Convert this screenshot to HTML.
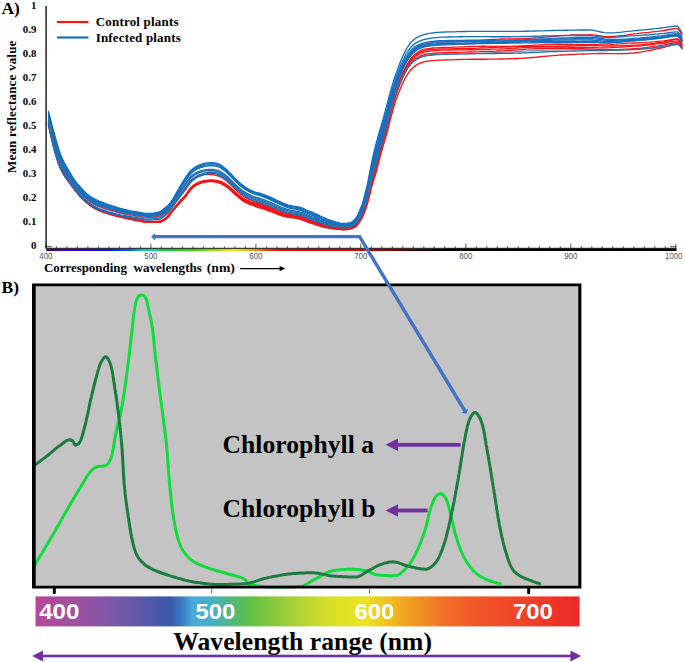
<!DOCTYPE html>
<html><head><meta charset="utf-8"><title>Figure</title>
<style>
html,body{margin:0;padding:0;background:#fff;}
body{width:685px;height:662px;overflow:hidden;font-family:"Liberation Serif",serif;}
svg{display:block;}
.serif{font-family:"Liberation Serif",serif;font-weight:bold;fill:#000;}
.sans{font-family:"Liberation Sans",sans-serif;}
</style></head><body>
<svg width="685" height="662" viewBox="0 0 685 662">
<defs>
<linearGradient id="specA" x1="0" y1="0" x2="1" y2="0">
<stop offset="0.000" stop-color="#3a0070"/>
<stop offset="0.039" stop-color="#5000a8"/>
<stop offset="0.092" stop-color="#2a00cc"/>
<stop offset="0.158" stop-color="#0018e0"/>
<stop offset="0.211" stop-color="#0068e0"/>
<stop offset="0.242" stop-color="#00c0e0"/>
<stop offset="0.266" stop-color="#00dca0"/>
<stop offset="0.295" stop-color="#00d028"/>
<stop offset="0.382" stop-color="#40d400"/>
<stop offset="0.437" stop-color="#a8e000"/>
<stop offset="0.474" stop-color="#f0ee00"/>
<stop offset="0.521" stop-color="#f09800"/>
<stop offset="0.555" stop-color="#f04000"/>
<stop offset="0.595" stop-color="#e80000"/>
<stop offset="0.789" stop-color="#e00000"/>
<stop offset="0.895" stop-color="#700000"/>
<stop offset="1.000" stop-color="#000000"/>
</linearGradient>
<linearGradient id="specB" x1="0" y1="0" x2="1" y2="0">
<stop offset="0" stop-color="#b8479a"/>
<stop offset="0.117" stop-color="#a050a0"/>
<stop offset="0.249" stop-color="#7858a8"/>
<stop offset="0.355" stop-color="#5058a8"/>
<stop offset="0.408" stop-color="#3858a8"/>
<stop offset="0.4415" stop-color="#3a78c0"/>
<stop offset="0.475" stop-color="#48a8d8"/>
<stop offset="0.5415" stop-color="#48b0c0"/>
<stop offset="0.5945" stop-color="#50b878"/>
<stop offset="0.6476" stop-color="#60c048"/>
<stop offset="0.754" stop-color="#98cc38"/>
<stop offset="0.8324" stop-color="#c0d830"/>
<stop offset="0.893" stop-color="#d8e028"/>
<stop offset="1" stop-color="#ece420"/>
</linearGradient>
<linearGradient id="specB2" x1="0" y1="0" x2="1" y2="0">
<stop offset="0" stop-color="#ece420"/>
<stop offset="0.105" stop-color="#f0c020"/>
<stop offset="0.228" stop-color="#f09820"/>
<stop offset="0.37" stop-color="#f07028"/>
<stop offset="0.513" stop-color="#f05828"/>
<stop offset="0.718" stop-color="#f04428"/>
<stop offset="0.923" stop-color="#ee3028"/>
<stop offset="1" stop-color="#e82828"/>
</linearGradient>
</defs>
<rect width="685" height="662" fill="#fff"/>

<!-- ===== Panel A ===== -->
<text class="serif" x="1.4" y="13.7" font-size="17.5">A)</text>
<g class="serif" font-size="10.8"><text x="36.3" y="248.7" text-anchor="end">0</text><text x="36.3" y="224.8" text-anchor="end">0.1</text><text x="36.3" y="200.8" text-anchor="end">0.2</text><text x="36.3" y="176.8" text-anchor="end">0.3</text><text x="36.3" y="152.9" text-anchor="end">0.4</text><text x="36.3" y="128.9" text-anchor="end">0.5</text><text x="36.3" y="105.0" text-anchor="end">0.6</text><text x="36.3" y="81.0" text-anchor="end">0.7</text><text x="36.3" y="57.1" text-anchor="end">0.8</text><text x="36.3" y="33.2" text-anchor="end">0.9</text><text x="36.3" y="9.2" text-anchor="end">1</text></g>
<text class="serif" font-size="13" transform="translate(15.5,173) rotate(-90)" textLength="132.4" lengthAdjust="spacing">Mean reflectance value</text>
<line x1="46.1" y1="6" x2="46.1" y2="248.6" stroke="#111" stroke-width="1.4"/>
<line x1="46" y1="246.6" x2="51.8" y2="246.6" stroke="#111" stroke-width="0.8"/>
<!-- legend -->
<line x1="57" y1="22" x2="88.5" y2="22" stroke="#fb1216" stroke-width="2.2"/>
<line x1="57" y1="37.5" x2="88.5" y2="37.5" stroke="#1470c0" stroke-width="2.2"/>
<text class="serif" font-size="13" x="95.7" y="26.3" textLength="82.8" lengthAdjust="spacing">Control plants</text>
<text class="serif" font-size="13" x="95.7" y="41.7" textLength="85" lengthAdjust="spacing">Infected plants</text>
<!-- curves -->
<g fill="none" stroke-width="1.35" stroke-linejoin="round" stroke-linecap="round">
<polyline points="48.5,120.4 50.5,129.3 52.5,137.6 54.5,145.3 56.5,152.1 58.5,158.4 60.5,163.7 62.5,167.8 64.5,171.3 66.5,174.4 68.5,177.3 70.5,180.2 72.5,183.0 74.5,185.8 76.5,188.4 78.5,190.7 80.5,192.9 82.5,195.0 84.5,196.9 86.5,198.7 88.5,200.3 90.5,201.7 92.5,203.0 94.5,204.1 96.5,205.1 98.5,206.0 100.5,206.7 102.5,207.5 104.5,208.1 106.5,208.8 108.5,209.4 110.5,210.0 112.5,210.5 114.5,211.1 116.5,211.6 118.5,212.2 120.5,212.7 122.5,213.2 124.5,213.6 126.5,214.0 128.5,214.4 130.5,214.8 132.5,215.1 134.5,215.5 136.5,215.8 138.5,216.1 140.5,216.4 142.5,216.8 144.5,217.1 146.5,217.3 148.5,217.4 150.5,217.3 152.5,217.1 154.5,216.9 156.5,216.7 158.5,216.4 160.5,215.7 162.5,214.7 164.5,213.4 166.5,212.0 168.5,210.1 170.5,207.7 172.5,204.9 174.5,202.1 176.5,199.3 178.5,196.5 180.5,193.7 182.5,191.2 184.5,188.8 186.5,186.2 188.5,183.5 190.5,181.0 192.5,179.3 194.5,178.0 196.5,177.0 198.5,176.1 200.5,175.5 202.5,175.1 204.5,174.7 206.5,174.5 208.5,174.5 210.5,174.5 212.5,174.7 214.5,175.0 216.5,175.4 218.5,176.0 220.5,176.9 222.5,178.0 224.5,179.4 226.5,181.0 228.5,182.6 230.5,184.5 232.5,186.5 234.5,188.5 236.5,190.4 238.5,192.2 240.5,194.0 242.5,195.5 244.5,196.8 246.5,198.0 248.5,199.1 250.5,200.0 252.5,200.9 254.5,201.7 256.5,202.4 258.5,203.0 260.5,203.7 262.5,204.4 264.5,205.1 266.5,205.8 268.5,206.6 270.5,207.4 272.5,208.2 274.5,209.1 276.5,209.9 278.5,210.8 280.5,211.6 282.5,212.4 284.5,213.1 286.5,213.7 288.5,214.2 290.5,214.5 292.5,214.8 294.5,215.1 296.5,215.4 298.5,215.8 300.5,216.4 302.5,217.1 304.5,217.9 306.5,218.8 308.5,219.6 310.5,220.3 312.5,221.1 314.5,221.8 316.5,222.5 318.5,223.3 320.5,224.0 322.5,224.7 324.5,225.3 326.5,225.8 328.5,226.3 330.5,226.7 332.5,227.1 334.5,227.4 336.5,227.7 338.5,228.0 340.5,228.3 342.5,228.4 344.5,228.5 346.5,228.3 348.5,228.0 350.0,227.7 351.0,227.4 352.0,227.1 353.0,226.6 354.0,226.0 355.0,225.3 356.0,224.4 357.0,223.3 358.0,221.8 359.0,220.2 360.0,218.4 361.0,216.5 362.0,214.4 363.0,212.0 364.0,209.2 365.0,206.2 366.0,202.9 367.0,199.5 368.0,195.4 369.0,190.9 370.0,186.5 371.0,182.0 372.0,177.4 373.0,173.4 374.0,169.7 375.0,166.2 376.0,162.4 377.0,158.5 378.0,154.5 379.0,150.4 380.0,146.4 381.0,142.6 382.0,138.8 383.0,135.2 384.0,131.6 385.0,128.0 386.0,124.3 387.0,120.5 388.0,116.5 389.0,112.4 390.0,108.3 391.0,104.4 392.0,100.7 393.0,97.1 394.0,93.6 395.0,90.3 396.0,87.0 397.0,84.0 398.0,81.1 399.0,78.3 400.0,75.6 401.0,73.0 402.0,70.5 403.0,68.1 404.0,65.9 405.0,63.7 406.0,61.7 407.0,59.8 408.0,58.1 409.0,56.5 410.0,55.0 411.0,53.7 412.0,52.4 413.0,51.3 414.0,50.2 415.0,49.3 416.0,48.4 417.0,47.7 418.0,46.9 419.0,46.3 420.0,45.7 421.0,45.2 422.0,44.8 423.0,44.5 424.0,44.2 425.0,43.9 426.0,43.7 427.0,43.4 428.0,43.3 429.0,43.1 430.0,42.9 433.0,42.5 436.0,42.2 439.0,41.9 442.0,41.8 445.0,41.7 448.0,41.7 451.0,41.6 454.0,41.6 457.0,41.5 460.0,41.5 463.0,41.4 466.0,41.3 469.0,41.2 472.0,41.1 475.0,40.9 478.0,40.6 481.0,40.4 484.0,40.1 487.0,39.9 490.0,39.7 493.0,39.5 496.0,39.3 499.0,39.2 502.0,39.0 505.0,38.9 508.0,38.9 511.0,38.8 514.0,38.8 517.0,38.7 520.0,38.7 523.0,38.6 526.0,38.5 529.0,38.4 532.0,38.2 535.0,38.0 538.0,37.8 541.0,37.5 544.0,37.2 547.0,36.9 550.0,36.6 553.0,36.3 556.0,36.1 559.0,35.8 562.0,35.6 565.0,35.4 568.0,35.3 571.0,35.1 574.0,35.0 577.0,34.9 580.0,34.9 583.0,34.8 586.0,34.8 589.0,34.7 592.0,34.8 595.0,35.1 598.0,35.5 601.0,36.0 604.0,36.4 607.0,36.7 610.0,36.6 613.0,36.5 616.0,36.2 619.0,35.9 622.0,35.6 625.0,35.3 628.0,34.8 631.0,34.3 634.0,33.9 637.0,33.6 640.0,33.2 643.0,32.9 646.0,32.6 649.0,32.3 652.0,31.9 655.0,31.6 658.0,31.3 661.0,30.9 664.0,30.5 667.0,30.0 670.0,29.5 673.0,29.0 676.0,28.7 677.0,28.6 678.0,29.0 680.0,31.5 682.0,35.1" stroke="#fb1216"/>
<polyline points="48.5,122.1 50.5,131.4 52.5,140.0 54.5,147.9 56.5,154.9 58.5,161.2 60.5,166.4 62.5,170.6 64.5,174.0 66.5,177.2 68.5,180.1 70.5,182.9 72.5,185.7 74.5,188.4 76.5,191.0 78.5,193.4 80.5,195.7 82.5,197.8 84.5,199.7 86.5,201.5 88.5,203.2 90.5,204.7 92.5,206.2 94.5,207.4 96.5,208.4 98.5,209.4 100.5,210.2 102.5,211.0 104.5,211.7 106.5,212.4 108.5,213.1 110.5,213.7 112.5,214.2 114.5,214.8 116.5,215.3 118.5,215.8 120.5,216.3 122.5,216.8 124.5,217.2 126.5,217.7 128.5,218.1 130.5,218.5 132.5,218.9 134.5,219.3 136.5,219.7 138.5,220.0 140.5,220.4 142.5,220.8 144.5,221.2 146.5,221.4 148.5,221.5 150.5,221.5 152.5,221.5 154.5,221.5 156.5,221.4 158.5,221.4 160.5,221.0 162.5,220.0 164.5,218.8 166.5,217.5 168.5,215.4 170.5,212.8 172.5,210.1 174.5,207.7 176.5,205.2 178.5,202.7 180.5,200.4 182.5,198.4 184.5,196.3 186.5,193.6 188.5,190.7 190.5,188.0 192.5,186.1 194.5,184.6 196.5,183.4 198.5,182.5 200.5,181.7 202.5,181.1 204.5,180.6 206.5,180.3 208.5,180.1 210.5,180.0 212.5,180.0 214.5,180.1 216.5,180.4 218.5,180.8 220.5,181.4 222.5,182.2 224.5,183.4 226.5,184.7 228.5,186.1 230.5,187.7 232.5,189.5 234.5,191.3 236.5,193.0 238.5,194.7 240.5,196.3 242.5,197.7 244.5,198.8 246.5,199.8 248.5,200.7 250.5,201.6 252.5,202.3 254.5,202.9 256.5,203.5 258.5,204.0 260.5,204.6 262.5,205.3 264.5,206.0 266.5,206.7 268.5,207.5 270.5,208.3 272.5,209.1 274.5,210.0 276.5,210.8 278.5,211.7 280.5,212.6 282.5,213.3 284.5,214.0 286.5,214.5 288.5,215.0 290.5,215.4 292.5,215.7 294.5,216.0 296.5,216.3 298.5,216.7 300.5,217.3 302.5,218.0 304.5,218.8 306.5,219.6 308.5,220.4 310.5,221.2 312.5,221.9 314.5,222.7 316.5,223.4 318.5,224.1 320.5,224.8 322.5,225.5 324.5,226.1 326.5,226.6 328.5,227.0 330.5,227.4 332.5,227.7 334.5,228.0 336.5,228.3 338.5,228.6 340.5,228.8 342.5,229.0 344.5,229.0 346.5,228.8 348.5,228.5 350.0,228.2 351.0,228.0 352.0,227.6 353.0,227.2 354.0,226.6 355.0,226.0 356.0,225.1 357.0,224.1 358.0,222.7 359.0,221.2 360.0,219.5 361.0,217.7 362.0,215.7 363.0,213.4 364.0,210.8 365.0,208.0 366.0,204.9 367.0,201.5 368.0,197.6 369.0,193.3 370.0,189.1 371.0,184.7 372.0,180.2 373.0,176.4 374.0,173.0 375.0,169.6 376.0,165.9 377.0,162.0 378.0,158.0 379.0,154.0 380.0,150.0 381.0,146.1 382.0,142.4 383.0,138.9 384.0,135.3 385.0,131.8 386.0,128.2 387.0,124.4 388.0,120.5 389.0,116.4 390.0,112.3 391.0,108.4 392.0,104.7 393.0,101.1 394.0,97.6 395.0,94.3 396.0,91.1 397.0,88.1 398.0,85.2 399.0,82.5 400.0,79.8 401.0,77.3 402.0,74.9 403.0,72.6 404.0,70.3 405.0,68.2 406.0,66.3 407.0,64.5 408.0,62.8 409.0,61.3 410.0,59.8 411.0,58.5 412.0,57.3 413.0,56.2 414.0,55.2 415.0,54.3 416.0,53.5 417.0,52.8 418.0,52.1 419.0,51.5 420.0,50.9 421.0,50.5 422.0,50.1 423.0,49.7 424.0,49.4 425.0,49.2 426.0,49.0 427.0,48.8 428.0,48.6 429.0,48.5 430.0,48.3 433.0,48.0 436.0,47.8 439.0,47.6 442.0,47.5 445.0,47.5 448.0,47.4 451.0,47.3 454.0,47.2 457.0,47.1 460.0,46.9 463.0,46.8 466.0,46.6 469.0,46.5 472.0,46.4 475.0,46.3 478.0,46.3 481.0,46.2 484.0,46.2 487.0,46.3 490.0,46.3 493.0,46.3 496.0,46.3 499.0,46.3 502.0,46.4 505.0,46.4 508.0,46.3 511.0,46.3 514.0,46.2 517.0,46.1 520.0,46.0 523.0,45.9 526.0,45.7 529.0,45.5 532.0,45.3 535.0,45.1 538.0,45.0 541.0,44.8 544.0,44.6 547.0,44.5 550.0,44.4 553.0,44.3 556.0,44.2 559.0,44.2 562.0,44.2 565.0,44.2 568.0,44.2 571.0,44.2 574.0,44.3 577.0,44.3 580.0,44.3 583.0,44.3 586.0,44.3 589.0,44.3 592.0,44.3 595.0,44.5 598.0,44.6 601.0,44.8 604.0,44.9 607.0,44.8 610.0,44.7 613.0,44.4 616.0,44.2 619.0,43.9 622.0,43.6 625.0,43.4 628.0,43.2 631.0,43.1 634.0,43.0 637.0,42.9 640.0,42.7 643.0,42.6 646.0,42.4 649.0,42.2 652.0,41.9 655.0,41.7 658.0,41.4 661.0,41.1 664.0,40.8 667.0,40.3 670.0,39.8 673.0,39.3 676.0,39.0 677.0,38.9 678.0,39.0 680.0,40.8 682.0,44.0" stroke="#fb1216"/>
<polyline points="48.5,122.9 50.5,132.2 52.5,140.8 54.5,148.8 56.5,155.7 58.5,161.9 60.5,167.1 62.5,171.1 64.5,174.6 66.5,177.7 68.5,180.5 70.5,183.3 72.5,186.0 74.5,188.8 76.5,191.3 78.5,193.7 80.5,196.0 82.5,198.1 84.5,200.0 86.5,201.8 88.5,203.4 90.5,204.9 92.5,206.4 94.5,207.6 96.5,208.6 98.5,209.5 100.5,210.4 102.5,211.2 104.5,211.9 106.5,212.5 108.5,213.2 110.5,213.8 112.5,214.3 114.5,214.9 116.5,215.4 118.5,215.9 120.5,216.4 122.5,216.9 124.5,217.3 126.5,217.8 128.5,218.2 130.5,218.6 132.5,219.0 134.5,219.4 136.5,219.7 138.5,220.1 140.5,220.5 142.5,220.9 144.5,221.3 146.5,221.5 148.5,221.6 150.5,221.6 152.5,221.6 154.5,221.6 156.5,221.5 158.5,221.5 160.5,221.1 162.5,220.2 164.5,219.0 166.5,217.6 168.5,215.5 170.5,213.0 172.5,210.3 174.5,207.8 176.5,205.4 178.5,203.0 180.5,200.7 182.5,198.6 184.5,196.5 186.5,194.0 188.5,191.0 190.5,188.3 192.5,186.4 194.5,185.0 196.5,183.7 198.5,182.8 200.5,182.1 202.5,181.5 204.5,181.0 206.5,180.7 208.5,180.5 210.5,180.4 212.5,180.4 214.5,180.6 216.5,180.9 218.5,181.3 220.5,182.0 222.5,182.8 224.5,183.9 226.5,185.3 228.5,186.7 230.5,188.3 232.5,190.2 234.5,192.0 236.5,193.7 238.5,195.4 240.5,197.0 242.5,198.4 244.5,199.6 246.5,200.6 248.5,201.5 250.5,202.3 252.5,203.1 254.5,203.7 256.5,204.3 258.5,204.9 260.5,205.5 262.5,206.2 264.5,206.9 266.5,207.6 268.5,208.3 270.5,209.1 272.5,209.9 274.5,210.7 276.5,211.6 278.5,212.4 280.5,213.2 282.5,213.9 284.5,214.6 286.5,215.1 288.5,215.6 290.5,215.9 292.5,216.2 294.5,216.5 296.5,216.8 298.5,217.1 300.5,217.7 302.5,218.4 304.5,219.2 306.5,220.0 308.5,220.8 310.5,221.6 312.5,222.3 314.5,223.0 316.5,223.7 318.5,224.4 320.5,225.1 322.5,225.7 324.5,226.3 326.5,226.8 328.5,227.2 330.5,227.6 332.5,227.9 334.5,228.2 336.5,228.5 338.5,228.7 340.5,229.0 342.5,229.1 344.5,229.1 346.5,229.0 348.5,228.6 350.0,228.3 351.0,228.1 352.0,227.8 353.0,227.3 354.0,226.8 355.0,226.1 356.0,225.3 357.0,224.3 358.0,223.0 359.0,221.5 360.0,219.8 361.0,218.0 362.0,216.0 363.0,213.7 364.0,211.2 365.0,208.4 366.0,205.4 367.0,202.0 368.0,198.1 369.0,194.0 370.0,189.8 371.0,185.4 372.0,181.0 373.0,177.2 374.0,173.8 375.0,170.5 376.0,166.8 377.0,162.9 378.0,158.9 379.0,154.9 380.0,150.9 381.0,147.0 382.0,143.3 383.0,139.8 384.0,136.3 385.0,132.8 386.0,129.2 387.0,125.4 388.0,121.5 389.0,117.4 390.0,113.4 391.0,109.4 392.0,105.7 393.0,102.1 394.0,98.7 395.0,95.3 396.0,92.1 397.0,89.1 398.0,86.3 399.0,83.5 400.0,80.9 401.0,78.4 402.0,76.1 403.0,73.7 404.0,71.5 405.0,69.4 406.0,67.4 407.0,65.7 408.0,64.0 409.0,62.5 410.0,61.1 411.0,59.8 412.0,58.6 413.0,57.5 414.0,56.6 415.0,55.7 416.0,54.8 417.0,54.1 418.0,53.4 419.0,52.8 420.0,52.2 421.0,51.8 422.0,51.4 423.0,51.1 424.0,50.8 425.0,50.6 426.0,50.3 427.0,50.2 428.0,50.0 429.0,49.9 430.0,49.7 433.0,49.4 436.0,49.1 439.0,48.9 442.0,48.9 445.0,48.8 448.0,48.8 451.0,48.8 454.0,48.7 457.0,48.7 460.0,48.7 463.0,48.7 466.0,48.6 469.0,48.5 472.0,48.4 475.0,48.3 478.0,48.2 481.0,48.0 484.0,47.9 487.0,47.8 490.0,47.6 493.0,47.5 496.0,47.3 499.0,47.2 502.0,47.1 505.0,47.0 508.0,46.9 511.0,46.8 514.0,46.7 517.0,46.6 520.0,46.6 523.0,46.5 526.0,46.5 529.0,46.4 532.0,46.4 535.0,46.4 538.0,46.4 541.0,46.4 544.0,46.4 547.0,46.4 550.0,46.3 553.0,46.3 556.0,46.3 559.0,46.2 562.0,46.1 565.0,46.1 568.0,46.0 571.0,45.9 574.0,45.8 577.0,45.7 580.0,45.6 583.0,45.5 586.0,45.5 589.0,45.4 592.0,45.4 595.0,45.5 598.0,45.7 601.0,45.9 604.0,46.0 607.0,46.1 610.0,46.0 613.0,46.0 616.0,45.9 619.0,45.8 622.0,45.6 625.0,45.5 628.0,45.4 631.0,45.3 634.0,45.2 637.0,45.1 640.0,44.9 643.0,44.7 646.0,44.3 649.0,44.0 652.0,43.6 655.0,43.2 658.0,42.7 661.0,42.3 664.0,41.8 667.0,41.2 670.0,40.5 673.0,39.9 676.0,39.6 677.0,39.5 678.0,39.6 680.0,41.3 682.0,44.4" stroke="#fb1216"/>
<polyline points="48.5,123.7 50.5,133.1 52.5,141.7 54.5,149.6 56.5,156.5 58.5,162.7 60.5,167.8 62.5,171.8 64.5,175.2 66.5,178.3 68.5,181.1 70.5,183.7 72.5,186.5 74.5,189.2 76.5,191.7 78.5,194.1 80.5,196.4 82.5,198.5 84.5,200.4 86.5,202.2 88.5,203.8 90.5,205.4 92.5,206.8 94.5,208.0 96.5,209.1 98.5,210.0 100.5,210.8 102.5,211.6 104.5,212.3 106.5,213.0 108.5,213.7 110.5,214.3 112.5,214.8 114.5,215.4 116.5,215.9 118.5,216.4 120.5,216.9 122.5,217.4 124.5,217.8 126.5,218.3 128.5,218.7 130.5,219.2 132.5,219.6 134.5,220.0 136.5,220.3 138.5,220.7 140.5,221.1 142.5,221.5 144.5,221.9 146.5,222.2 148.5,222.3 150.5,222.3 152.5,222.3 154.5,222.3 156.5,222.3 158.5,222.3 160.5,221.9 162.5,221.0 164.5,219.9 166.5,218.5 168.5,216.4 170.5,213.8 172.5,211.1 174.5,208.7 176.5,206.3 178.5,203.9 180.5,201.6 182.5,199.6 184.5,197.6 186.5,194.9 188.5,192.0 190.5,189.2 192.5,187.3 194.5,185.8 196.5,184.5 198.5,183.5 200.5,182.7 202.5,182.1 204.5,181.6 206.5,181.2 208.5,181.0 210.5,180.8 212.5,180.9 214.5,181.0 216.5,181.3 218.5,181.9 220.5,182.5 222.5,183.4 224.5,184.5 226.5,185.9 228.5,187.3 230.5,189.0 232.5,190.8 234.5,192.7 236.5,194.4 238.5,196.1 240.5,197.7 242.5,199.1 244.5,200.3 246.5,201.4 248.5,202.3 250.5,203.1 252.5,203.9 254.5,204.5 256.5,205.1 258.5,205.8 260.5,206.4 262.5,207.0 264.5,207.7 266.5,208.4 268.5,209.1 270.5,209.9 272.5,210.7 274.5,211.5 276.5,212.3 278.5,213.2 280.5,214.0 282.5,214.7 284.5,215.3 286.5,215.8 288.5,216.2 290.5,216.5 292.5,216.8 294.5,217.1 296.5,217.4 298.5,217.7 300.5,218.3 302.5,219.0 304.5,219.8 306.5,220.6 308.5,221.4 310.5,222.1 312.5,222.8 314.5,223.5 316.5,224.2 318.5,224.8 320.5,225.5 322.5,226.2 324.5,226.7 326.5,227.2 328.5,227.6 330.5,227.9 332.5,228.2 334.5,228.5 336.5,228.7 338.5,229.0 340.5,229.2 342.5,229.4 344.5,229.4 346.5,229.2 348.5,228.9 350.0,228.6 351.0,228.4 352.0,228.1 353.0,227.6 354.0,227.1 355.0,226.5 356.0,225.7 357.0,224.6 358.0,223.4 359.0,221.9 360.0,220.3 361.0,218.5 362.0,216.5 363.0,214.3 364.0,211.9 365.0,209.1 366.0,206.2 367.0,202.9 368.0,199.0 369.0,194.9 370.0,190.8 371.0,186.4 372.0,182.1 373.0,178.3 374.0,175.0 375.0,171.7 376.0,168.1 377.0,164.2 378.0,160.2 379.0,156.1 380.0,152.1 381.0,148.2 382.0,144.6 383.0,141.0 384.0,137.5 385.0,134.0 386.0,130.4 387.0,126.7 388.0,122.8 389.0,118.7 390.0,114.6 391.0,110.7 392.0,107.0 393.0,103.4 394.0,99.9 395.0,96.5 396.0,93.4 397.0,90.4 398.0,87.5 399.0,84.8 400.0,82.2 401.0,79.7 402.0,77.3 403.0,75.0 404.0,72.8 405.0,70.7 406.0,68.8 407.0,67.0 408.0,65.3 409.0,63.8 410.0,62.4 411.0,61.1 412.0,60.0 413.0,58.9 414.0,57.9 415.0,57.0 416.0,56.2 417.0,55.5 418.0,54.8 419.0,54.2 420.0,53.6 421.0,53.2 422.0,52.8 423.0,52.5 424.0,52.2 425.0,51.9 426.0,51.7 427.0,51.5 428.0,51.4 429.0,51.3 430.0,51.1 433.0,50.8 436.0,50.5 439.0,50.3 442.0,50.2 445.0,50.1 448.0,50.0 451.0,50.0 454.0,49.9 457.0,49.8 460.0,49.8 463.0,49.8 466.0,49.8 469.0,49.7 472.0,49.7 475.0,49.7 478.0,49.6 481.0,49.6 484.0,49.5 487.0,49.4 490.0,49.3 493.0,49.2 496.0,49.1 499.0,49.0 502.0,48.8 505.0,48.7 508.0,48.5 511.0,48.3 514.0,48.2 517.0,48.0 520.0,47.8 523.0,47.6 526.0,47.4 529.0,47.3 532.0,47.1 535.0,47.1 538.0,47.0 541.0,47.0 544.0,46.9 547.0,46.9 550.0,46.9 553.0,46.9 556.0,47.0 559.0,47.0 562.0,47.0 565.0,47.1 568.0,47.2 571.0,47.2 574.0,47.3 577.0,47.3 580.0,47.3 583.0,47.4 586.0,47.4 589.0,47.4 592.0,47.4 595.0,47.5 598.0,47.7 601.0,47.8 604.0,47.8 607.0,47.8 610.0,47.7 613.0,47.5 616.0,47.4 619.0,47.2 622.0,47.0 625.0,46.8 628.0,46.6 631.0,46.4 634.0,46.2 637.0,46.0 640.0,45.8 643.0,45.5 646.0,45.2 649.0,44.8 652.0,44.5 655.0,44.1 658.0,43.7 661.0,43.4 664.0,43.0 667.0,42.4 670.0,41.9 673.0,41.3 676.0,41.1 677.0,41.0 678.0,41.1 680.0,42.8 682.0,45.9" stroke="#fb1216"/>
<polyline points="48.5,124.1 50.5,133.6 52.5,142.2 54.5,150.2 56.5,157.1 58.5,163.2 60.5,168.3 62.5,172.3 64.5,175.6 66.5,178.7 68.5,181.4 70.5,184.1 72.5,186.8 74.5,189.5 76.5,192.0 78.5,194.4 80.5,196.7 82.5,198.8 84.5,200.7 86.5,202.4 88.5,204.0 90.5,205.6 92.5,207.0 94.5,208.2 96.5,209.2 98.5,210.2 100.5,211.0 102.5,211.8 104.5,212.5 106.5,213.1 108.5,213.8 110.5,214.3 112.5,214.9 114.5,215.5 116.5,216.0 118.5,216.5 120.5,217.0 122.5,217.4 124.5,217.9 126.5,218.4 128.5,218.8 130.5,219.2 132.5,219.6 134.5,220.0 136.5,220.4 138.5,220.8 140.5,221.2 142.5,221.6 144.5,222.0 146.5,222.2 148.5,222.3 150.5,222.3 152.5,222.3 154.5,222.3 156.5,222.3 158.5,222.3 160.5,222.0 162.5,221.1 164.5,219.9 166.5,218.6 168.5,216.5 170.5,213.8 172.5,211.2 174.5,208.8 176.5,206.4 178.5,204.0 180.5,201.8 182.5,199.8 184.5,197.8 186.5,195.2 188.5,192.2 190.5,189.5 192.5,187.6 194.5,186.1 196.5,184.8 198.5,183.8 200.5,183.1 202.5,182.4 204.5,181.9 206.5,181.6 208.5,181.4 210.5,181.2 212.5,181.3 214.5,181.5 216.5,181.8 218.5,182.4 220.5,183.1 222.5,183.9 224.5,185.1 226.5,186.4 228.5,187.9 230.5,189.6 232.5,191.4 234.5,193.3 236.5,195.1 238.5,196.8 240.5,198.4 242.5,199.9 244.5,201.1 246.5,202.1 248.5,203.1 250.5,203.9 252.5,204.7 254.5,205.3 256.5,206.0 258.5,206.6 260.5,207.3 262.5,207.9 264.5,208.6 266.5,209.3 268.5,210.0 270.5,210.7 272.5,211.4 274.5,212.2 276.5,213.1 278.5,213.9 280.5,214.7 282.5,215.3 284.5,215.9 286.5,216.4 288.5,216.8 290.5,217.1 292.5,217.4 294.5,217.6 296.5,217.9 298.5,218.3 300.5,218.8 302.5,219.5 304.5,220.3 306.5,221.1 308.5,221.8 310.5,222.5 312.5,223.2 314.5,223.9 316.5,224.6 318.5,225.2 320.5,225.9 322.5,226.5 324.5,227.0 326.5,227.4 328.5,227.8 330.5,228.2 332.5,228.5 334.5,228.7 336.5,229.0 338.5,229.2 340.5,229.4 342.5,229.6 344.5,229.6 346.5,229.4 348.5,229.1 350.0,228.8 351.0,228.6 352.0,228.3 353.0,227.8 354.0,227.3 355.0,226.7 356.0,226.0 357.0,224.9 358.0,223.7 359.0,222.3 360.0,220.7 361.0,219.0 362.0,217.1 363.0,214.9 364.0,212.5 365.0,209.9 366.0,206.9 367.0,203.7 368.0,199.9 369.0,195.9 370.0,191.8 371.0,187.6 372.0,183.3 373.0,179.6 374.0,176.4 375.0,173.2 376.0,169.6 377.0,165.8 378.0,161.7 379.0,157.7 380.0,153.7 381.0,149.8 382.0,146.1 383.0,142.6 384.0,139.2 385.0,135.7 386.0,132.1 387.0,128.5 388.0,124.6 389.0,120.5 390.0,116.4 391.0,112.5 392.0,108.8 393.0,105.2 394.0,101.7 395.0,98.4 396.0,95.2 397.0,92.2 398.0,89.4 399.0,86.7 400.0,84.2 401.0,81.7 402.0,79.4 403.0,77.1 404.0,74.9 405.0,72.8 406.0,70.9 407.0,69.1 408.0,67.5 409.0,66.0 410.0,64.6 411.0,63.4 412.0,62.3 413.0,61.2 414.0,60.3 415.0,59.4 416.0,58.6 417.0,57.9 418.0,57.2 419.0,56.6 420.0,56.1 421.0,55.7 422.0,55.3 423.0,54.9 424.0,54.7 425.0,54.4 426.0,54.2 427.0,54.0 428.0,53.9 429.0,53.8 430.0,53.6 433.0,53.3 436.0,53.0 439.0,52.8 442.0,52.7 445.0,52.6 448.0,52.5 451.0,52.4 454.0,52.3 457.0,52.3 460.0,52.2 463.0,52.1 466.0,52.1 469.0,52.0 472.0,52.0 475.0,51.9 478.0,51.8 481.0,51.7 484.0,51.6 487.0,51.5 490.0,51.4 493.0,51.3 496.0,51.2 499.0,51.0 502.0,50.9 505.0,50.7 508.0,50.5 511.0,50.3 514.0,50.1 517.0,49.9 520.0,49.7 523.0,49.5 526.0,49.2 529.0,48.9 532.0,48.8 535.0,48.7 538.0,48.6 541.0,48.5 544.0,48.4 547.0,48.4 550.0,48.3 553.0,48.3 556.0,48.3 559.0,48.3 562.0,48.3 565.0,48.3 568.0,48.4 571.0,48.4 574.0,48.5 577.0,48.5 580.0,48.6 583.0,48.7 586.0,48.8 589.0,48.9 592.0,49.0 595.0,49.2 598.0,49.4 601.0,49.5 604.0,49.6 607.0,49.7 610.0,49.7 613.0,49.6 616.0,49.6 619.0,49.5 622.0,49.3 625.0,49.2 628.0,49.1 631.0,48.9 634.0,48.7 637.0,48.5 640.0,48.3 643.0,47.9 646.0,47.6 649.0,47.1 652.0,46.7 655.0,46.2 658.0,45.8 661.0,45.3 664.0,44.9 667.0,44.2 670.0,43.6 673.0,43.0 676.0,42.7 677.0,42.6 678.0,42.7 680.0,44.2 682.0,47.2" stroke="#fb1216"/>
<polyline points="48.5,124.5 50.5,133.9 52.5,142.6 54.5,150.6 56.5,157.4 58.5,163.5 60.5,168.6 62.5,172.6 64.5,175.9 66.5,178.9 68.5,181.7 70.5,184.3 72.5,187.0 74.5,189.7 76.5,192.2 78.5,194.6 80.5,196.9 82.5,198.9 84.5,200.8 86.5,202.6 88.5,204.2 90.5,205.7 92.5,207.1 94.5,208.3 96.5,209.4 98.5,210.3 100.5,211.1 102.5,211.9 104.5,212.6 106.5,213.2 108.5,213.9 110.5,214.4 112.5,215.0 114.5,215.5 116.5,216.1 118.5,216.6 120.5,217.1 122.5,217.5 124.5,218.0 126.5,218.4 128.5,218.9 130.5,219.3 132.5,219.7 134.5,220.1 136.5,220.5 138.5,220.8 140.5,221.3 142.5,221.7 144.5,222.0 146.5,222.3 148.5,222.4 150.5,222.4 152.5,222.4 154.5,222.4 156.5,222.4 158.5,222.4 160.5,222.0 162.5,221.2 164.5,220.0 166.5,218.7 168.5,216.5 170.5,213.9 172.5,211.3 174.5,208.9 176.5,206.5 178.5,204.2 180.5,202.0 182.5,200.0 184.5,198.0 186.5,195.4 188.5,192.4 190.5,189.7 192.5,187.8 194.5,186.3 196.5,185.0 198.5,184.1 200.5,183.3 202.5,182.7 204.5,182.2 206.5,181.9 208.5,181.6 210.5,181.5 212.5,181.6 214.5,181.8 216.5,182.2 218.5,182.8 220.5,183.5 222.5,184.4 224.5,185.6 226.5,187.0 228.5,188.5 230.5,190.1 232.5,192.0 234.5,193.9 236.5,195.7 238.5,197.4 240.5,199.1 242.5,200.6 244.5,201.8 246.5,202.9 248.5,203.8 250.5,204.7 252.5,205.4 254.5,206.1 256.5,206.8 258.5,207.5 260.5,208.2 262.5,208.8 264.5,209.4 266.5,210.1 268.5,210.8 270.5,211.5 272.5,212.2 274.5,213.0 276.5,213.8 278.5,214.6 280.5,215.4 282.5,216.0 284.5,216.6 286.5,217.0 288.5,217.4 290.5,217.7 292.5,217.9 294.5,218.2 296.5,218.4 298.5,218.8 300.5,219.3 302.5,220.0 304.5,220.8 306.5,221.5 308.5,222.3 310.5,223.0 312.5,223.7 314.5,224.3 316.5,225.0 318.5,225.6 320.5,226.2 322.5,226.8 324.5,227.3 326.5,227.7 328.5,228.1 330.5,228.4 332.5,228.7 334.5,228.9 336.5,229.2 338.5,229.4 340.5,229.6 342.5,229.8 344.5,229.8 346.5,229.6 348.5,229.3 350.0,229.0 351.0,228.8 352.0,228.5 353.0,228.1 354.0,227.6 355.0,227.1 356.0,226.3 357.0,225.4 358.0,224.2 359.0,223.0 360.0,221.4 361.0,219.7 362.0,217.9 363.0,215.9 364.0,213.7 365.0,211.2 366.0,208.4 367.0,205.3 368.0,201.6 369.0,197.9 370.0,194.0 371.0,189.9 372.0,185.7 373.0,182.3 374.0,179.3 375.0,176.3 376.0,172.9 377.0,169.1 378.0,165.2 379.0,161.1 380.0,157.2 381.0,153.4 382.0,149.8 383.0,146.4 384.0,143.0 385.0,139.7 386.0,136.3 387.0,132.7 388.0,129.0 389.0,125.0 390.0,120.9 391.0,117.0 392.0,113.4 393.0,109.8 394.0,106.4 395.0,103.1 396.0,100.0 397.0,97.1 398.0,94.4 399.0,91.8 400.0,89.4 401.0,87.0 402.0,84.8 403.0,82.6 404.0,80.5 405.0,78.5 406.0,76.7 407.0,75.1 408.0,73.6 409.0,72.1 410.0,70.9 411.0,69.7 412.0,68.7 413.0,67.8 414.0,66.9 415.0,66.1 416.0,65.4 417.0,64.8 418.0,64.2 419.0,63.7 420.0,63.2 421.0,62.8 422.0,62.4 423.0,62.1 424.0,61.8 425.0,61.6 426.0,61.4 427.0,61.3 428.0,61.1 429.0,61.0 430.0,60.9 433.0,60.6 436.0,60.4 439.0,60.2 442.0,60.1 445.0,60.0 448.0,59.9 451.0,59.8 454.0,59.7 457.0,59.6 460.0,59.5 463.0,59.4 466.0,59.3 469.0,59.3 472.0,59.2 475.0,59.2 478.0,59.2 481.0,59.2 484.0,59.2 487.0,59.2 490.0,59.1 493.0,59.1 496.0,59.1 499.0,59.0 502.0,59.0 505.0,58.9 508.0,58.8 511.0,58.7 514.0,58.6 517.0,58.5 520.0,58.4 523.0,58.2 526.0,58.0 529.0,57.8 532.0,57.5 535.0,57.3 538.0,57.0 541.0,56.7 544.0,56.4 547.0,56.1 550.0,55.8 553.0,55.6 556.0,55.4 559.0,55.2 562.0,55.0 565.0,54.8 568.0,54.6 571.0,54.5 574.0,54.4 577.0,54.2 580.0,54.1 583.0,54.0 586.0,53.9 589.0,53.8 592.0,53.7 595.0,53.6 598.0,53.5 601.0,53.5 604.0,53.5 607.0,53.6 610.0,53.6 613.0,53.6 616.0,53.6 619.0,53.6 622.0,53.7 625.0,53.6 628.0,53.5 631.0,53.2 634.0,53.0 637.0,52.6 640.0,52.2 643.0,51.7 646.0,51.2 649.0,50.6 652.0,50.0 655.0,49.3 658.0,48.6 661.0,48.0 664.0,47.3 667.0,46.4 670.0,45.5 673.0,44.7 676.0,44.1 677.0,44.0 678.0,44.0 680.0,45.3 682.0,48.3" stroke="#fb1216"/>
<polyline points="48.5,111.3 50.5,119.3 52.5,127.1 54.5,134.4 56.5,141.6 58.5,148.5 60.5,154.5 62.5,159.1 64.5,163.1 66.5,166.8 68.5,170.2 70.5,173.5 72.5,176.8 74.5,179.8 76.5,182.6 78.5,185.0 80.5,187.3 82.5,189.5 84.5,191.5 86.5,193.4 88.5,195.1 90.5,196.5 92.5,197.8 94.5,198.9 96.5,199.9 98.5,200.8 100.5,201.6 102.5,202.4 104.5,203.2 106.5,203.9 108.5,204.6 110.5,205.2 112.5,205.9 114.5,206.5 116.5,207.2 118.5,207.8 120.5,208.4 122.5,209.0 124.5,209.5 126.5,210.0 128.5,210.4 130.5,210.8 132.5,211.1 134.5,211.5 136.5,211.8 138.5,212.1 140.5,212.5 142.5,212.9 144.5,213.2 146.5,213.4 148.5,213.5 150.5,213.4 152.5,213.3 154.5,213.0 156.5,212.6 158.5,212.2 160.5,211.4 162.5,210.0 164.5,208.4 166.5,206.8 168.5,204.9 170.5,202.6 172.5,199.5 174.5,196.1 176.5,192.6 178.5,189.2 180.5,185.7 182.5,182.3 184.5,179.1 186.5,176.2 188.5,173.3 190.5,170.9 192.5,169.0 194.5,167.6 196.5,166.4 198.5,165.4 200.5,164.6 202.5,163.9 204.5,163.3 206.5,163.0 208.5,162.8 210.5,162.6 212.5,162.6 214.5,162.8 216.5,163.2 218.5,163.8 220.5,164.8 222.5,166.2 224.5,167.9 226.5,169.6 228.5,171.5 230.5,173.6 232.5,175.6 234.5,177.7 236.5,179.8 238.5,181.8 240.5,183.5 242.5,185.1 244.5,186.5 246.5,187.8 248.5,189.0 250.5,190.1 252.5,191.0 254.5,191.8 256.5,192.5 258.5,193.0 260.5,193.5 262.5,194.2 264.5,194.9 266.5,195.7 268.5,196.5 270.5,197.3 272.5,198.2 274.5,199.2 276.5,200.1 278.5,201.0 280.5,201.9 282.5,202.8 284.5,203.7 286.5,204.5 288.5,205.2 290.5,205.6 292.5,206.0 294.5,206.3 296.5,206.6 298.5,207.0 300.5,207.5 302.5,208.1 304.5,209.0 306.5,210.0 308.5,210.9 310.5,211.7 312.5,212.5 314.5,213.3 316.5,214.2 318.5,215.1 320.5,216.1 322.5,217.0 324.5,217.9 326.5,218.8 328.5,219.6 330.5,220.3 332.5,221.0 334.5,221.6 336.5,222.1 338.5,222.6 340.5,223.1 342.5,223.3 344.5,223.4 346.5,223.2 348.5,222.9 350.0,222.6 351.0,222.3 352.0,221.8 353.0,221.0 354.0,220.1 355.0,219.2 356.0,218.0 357.0,216.6 358.0,214.5 359.0,211.9 360.0,209.6 361.0,207.4 362.0,204.9 363.0,201.8 364.0,198.1 365.0,194.0 366.0,190.1 367.0,186.3 368.0,181.5 369.0,176.1 370.0,171.0 371.0,165.9 372.0,161.0 373.0,156.3 374.0,152.0 375.0,148.0 376.0,144.1 377.0,140.4 378.0,136.8 379.0,133.2 380.0,129.6 381.0,126.1 382.0,122.6 383.0,119.1 384.0,115.6 385.0,112.1 386.0,108.4 387.0,104.5 388.0,100.7 389.0,96.8 390.0,93.1 391.0,89.6 392.0,86.3 393.0,83.0 394.0,79.8 395.0,76.7 396.0,73.8 397.0,70.9 398.0,68.1 399.0,65.4 400.0,62.7 401.0,60.2 402.0,57.9 403.0,55.7 404.0,53.6 405.0,51.6 406.0,49.7 407.0,48.0 408.0,46.5 409.0,45.1 410.0,43.7 411.0,42.5 412.0,41.4 413.0,40.4 414.0,39.5 415.0,38.8 416.0,38.1 417.0,37.5 418.0,36.9 419.0,36.5 420.0,36.0 421.0,35.6 422.0,35.3 423.0,34.9 424.0,34.6 425.0,34.3 426.0,34.0 427.0,33.8 428.0,33.6 429.0,33.4 430.0,33.3 433.0,32.9 436.0,32.5 439.0,32.3 442.0,32.1 445.0,32.0 448.0,31.9 451.0,31.8 454.0,31.8 457.0,31.7 460.0,31.6 463.0,31.5 466.0,31.5 469.0,31.4 472.0,31.4 475.0,31.4 478.0,31.3 481.0,31.3 484.0,31.3 487.0,31.4 490.0,31.4 493.0,31.4 496.0,31.4 499.0,31.4 502.0,31.4 505.0,31.4 508.0,31.4 511.0,31.4 514.0,31.4 517.0,31.3 520.0,31.3 523.0,31.3 526.0,31.2 529.0,31.2 532.0,31.1 535.0,31.0 538.0,30.9 541.0,30.8 544.0,30.8 547.0,30.7 550.0,30.6 553.0,30.5 556.0,30.4 559.0,30.4 562.0,30.3 565.0,30.2 568.0,30.2 571.0,30.1 574.0,30.1 577.0,30.1 580.0,30.0 583.0,30.0 586.0,30.0 589.0,30.0 592.0,30.2 595.0,30.7 598.0,31.3 601.0,32.0 604.0,32.6 607.0,32.9 610.0,32.9 613.0,32.9 616.0,32.7 619.0,32.4 622.0,32.1 625.0,31.7 628.0,31.4 631.0,31.1 634.0,30.7 637.0,30.5 640.0,30.2 643.0,29.9 646.0,29.6 649.0,29.3 652.0,29.0 655.0,28.7 658.0,28.3 661.0,28.0 664.0,27.6 667.0,27.2 670.0,26.8 673.0,26.4 676.0,26.2 677.0,26.2 678.0,26.6 680.0,29.4 682.0,33.1" stroke="#1470c0"/>
<polyline points="48.5,113.0 50.5,121.2 52.5,129.0 54.5,136.4 56.5,143.5 58.5,150.3 60.5,156.1 62.5,160.7 64.5,164.6 66.5,168.1 68.5,171.5 70.5,174.7 72.5,177.9 74.5,180.9 76.5,183.6 78.5,186.0 80.5,188.3 82.5,190.4 84.5,192.4 86.5,194.3 88.5,196.0 90.5,197.4 92.5,198.7 94.5,199.8 96.5,200.8 98.5,201.6 100.5,202.5 102.5,203.2 104.5,204.0 106.5,204.7 108.5,205.3 110.5,206.0 112.5,206.6 114.5,207.3 116.5,207.9 118.5,208.5 120.5,209.1 122.5,209.7 124.5,210.2 126.5,210.6 128.5,211.0 130.5,211.4 132.5,211.7 134.5,212.1 136.5,212.4 138.5,212.7 140.5,213.1 142.5,213.5 144.5,213.8 146.5,214.0 148.5,214.1 150.5,214.0 152.5,213.9 154.5,213.6 156.5,213.2 158.5,212.8 160.5,212.0 162.5,210.7 164.5,209.1 166.5,207.5 168.5,205.6 170.5,203.3 172.5,200.1 174.5,196.8 176.5,193.4 178.5,190.0 180.5,186.6 182.5,183.2 184.5,180.1 186.5,177.2 188.5,174.3 190.5,171.8 192.5,170.0 194.5,168.5 196.5,167.3 198.5,166.3 200.5,165.5 202.5,164.8 204.5,164.2 206.5,163.8 208.5,163.6 210.5,163.5 212.5,163.4 214.5,163.6 216.5,164.0 218.5,164.6 220.5,165.6 222.5,167.0 224.5,168.7 226.5,170.4 228.5,172.3 230.5,174.3 232.5,176.4 234.5,178.4 236.5,180.5 238.5,182.5 240.5,184.3 242.5,185.8 244.5,187.3 246.5,188.5 248.5,189.7 250.5,190.8 252.5,191.7 254.5,192.6 256.5,193.2 258.5,193.8 260.5,194.3 262.5,194.9 264.5,195.7 266.5,196.5 268.5,197.3 270.5,198.2 272.5,199.1 274.5,200.1 276.5,201.0 278.5,201.9 280.5,202.8 282.5,203.7 284.5,204.6 286.5,205.4 288.5,206.0 290.5,206.5 292.5,206.9 294.5,207.2 296.5,207.5 298.5,207.9 300.5,208.5 302.5,209.1 304.5,210.0 306.5,211.0 308.5,211.9 310.5,212.7 312.5,213.5 314.5,214.3 316.5,215.2 318.5,216.1 320.5,217.1 322.5,218.0 324.5,218.9 326.5,219.7 328.5,220.4 330.5,221.2 332.5,221.8 334.5,222.4 336.5,222.8 338.5,223.3 340.5,223.7 342.5,224.0 344.5,224.0 346.5,223.9 348.5,223.6 350.0,223.3 351.0,223.0 352.0,222.5 353.0,221.8 354.0,220.9 355.0,220.0 356.0,218.9 357.0,217.6 358.0,215.6 359.0,213.2 360.0,210.9 361.0,208.8 362.0,206.4 363.0,203.4 364.0,200.0 365.0,196.1 366.0,192.3 367.0,188.6 368.0,184.0 369.0,178.8 370.0,173.8 371.0,168.9 372.0,164.1 373.0,159.6 374.0,155.5 375.0,151.6 376.0,147.9 377.0,144.2 378.0,140.6 379.0,137.0 380.0,133.3 381.0,129.8 382.0,126.4 383.0,122.9 384.0,119.5 385.0,116.0 386.0,112.4 387.0,108.6 388.0,104.8 389.0,101.0 390.0,97.2 391.0,93.7 392.0,90.3 393.0,87.0 394.0,83.9 395.0,80.8 396.0,77.8 397.0,75.0 398.0,72.2 399.0,69.5 400.0,67.0 401.0,64.5 402.0,62.2 403.0,60.1 404.0,58.0 405.0,56.1 406.0,54.2 407.0,52.5 408.0,51.0 409.0,49.6 410.0,48.4 411.0,47.2 412.0,46.1 413.0,45.1 414.0,44.3 415.0,43.6 416.0,42.9 417.0,42.4 418.0,41.8 419.0,41.4 420.0,41.0 421.0,40.6 422.0,40.2 423.0,39.9 424.0,39.5 425.0,39.3 426.0,39.0 427.0,38.8 428.0,38.6 429.0,38.5 430.0,38.3 433.0,37.9 436.0,37.6 439.0,37.3 442.0,37.2 445.0,37.1 448.0,37.0 451.0,37.0 454.0,36.9 457.0,36.8 460.0,36.7 463.0,36.7 466.0,36.6 469.0,36.6 472.0,36.6 475.0,36.6 478.0,36.6 481.0,36.6 484.0,36.6 487.0,36.6 490.0,36.7 493.0,36.7 496.0,36.7 499.0,36.7 502.0,36.7 505.0,36.7 508.0,36.7 511.0,36.7 514.0,36.6 517.0,36.6 520.0,36.6 523.0,36.5 526.0,36.4 529.0,36.4 532.0,36.3 535.0,36.2 538.0,36.2 541.0,36.1 544.0,36.0 547.0,35.9 550.0,35.9 553.0,35.8 556.0,35.7 559.0,35.7 562.0,35.6 565.0,35.6 568.0,35.6 571.0,35.5 574.0,35.5 577.0,35.5 580.0,35.5 583.0,35.5 586.0,35.5 589.0,35.6 592.0,35.7 595.0,36.1 598.0,36.6 601.0,37.1 604.0,37.4 607.0,37.6 610.0,37.6 613.0,37.4 616.0,37.2 619.0,37.0 622.0,36.6 625.0,36.3 628.0,36.1 631.0,35.9 634.0,35.8 637.0,35.6 640.0,35.4 643.0,35.2 646.0,35.0 649.0,34.8 652.0,34.5 655.0,34.2 658.0,34.0 661.0,33.7 664.0,33.4 667.0,33.0 670.0,32.5 673.0,32.1 676.0,31.9 677.0,31.9 678.0,32.2 680.0,34.5 682.0,38.0" stroke="#1470c0"/>
<polyline points="48.5,114.7 50.5,123.1 52.5,131.0 54.5,138.4 56.5,145.5 58.5,152.2 60.5,157.8 62.5,162.3 64.5,166.1 66.5,169.5 68.5,172.8 70.5,175.9 72.5,179.0 74.5,182.0 76.5,184.6 78.5,187.0 80.5,189.3 82.5,191.4 84.5,193.4 86.5,195.2 88.5,196.9 90.5,198.3 92.5,199.6 94.5,200.7 96.5,201.6 98.5,202.5 100.5,203.3 102.5,204.1 104.5,204.8 106.5,205.5 108.5,206.1 110.5,206.7 112.5,207.4 114.5,208.0 116.5,208.6 118.5,209.2 120.5,209.8 122.5,210.3 124.5,210.8 126.5,211.2 128.5,211.6 130.5,212.0 132.5,212.4 134.5,212.7 136.5,213.0 138.5,213.4 140.5,213.7 142.5,214.1 144.5,214.4 146.5,214.6 148.5,214.7 150.5,214.6 152.5,214.4 154.5,214.2 156.5,213.8 158.5,213.5 160.5,212.7 162.5,211.4 164.5,209.8 166.5,208.2 168.5,206.3 170.5,204.0 172.5,200.9 174.5,197.7 176.5,194.3 178.5,191.0 180.5,187.6 182.5,184.4 184.5,181.4 186.5,178.5 188.5,175.6 190.5,173.1 192.5,171.3 194.5,169.8 196.5,168.6 198.5,167.6 200.5,166.9 202.5,166.1 204.5,165.6 206.5,165.2 208.5,165.0 210.5,164.9 212.5,164.8 214.5,165.0 216.5,165.4 218.5,166.0 220.5,166.9 222.5,168.3 224.5,169.9 226.5,171.5 228.5,173.4 230.5,175.4 232.5,177.5 234.5,179.5 236.5,181.5 238.5,183.5 240.5,185.2 242.5,186.8 244.5,188.2 246.5,189.4 248.5,190.5 250.5,191.6 252.5,192.5 254.5,193.3 256.5,194.0 258.5,194.5 260.5,195.0 262.5,195.7 264.5,196.5 266.5,197.3 268.5,198.1 270.5,199.0 272.5,199.9 274.5,200.9 276.5,201.9 278.5,202.8 280.5,203.7 282.5,204.6 284.5,205.5 286.5,206.3 288.5,206.9 290.5,207.4 292.5,207.8 294.5,208.2 296.5,208.5 298.5,208.9 300.5,209.4 302.5,210.1 304.5,210.9 306.5,212.0 308.5,212.9 310.5,213.7 312.5,214.5 314.5,215.4 316.5,216.2 318.5,217.1 320.5,218.0 322.5,219.0 324.5,219.8 326.5,220.6 328.5,221.3 330.5,222.0 332.5,222.6 334.5,223.1 336.5,223.6 338.5,224.0 340.5,224.4 342.5,224.7 344.5,224.7 346.5,224.5 348.5,224.2 350.0,223.9 351.0,223.7 352.0,223.2 353.0,222.5 354.0,221.7 355.0,220.8 356.0,219.8 357.0,218.5 358.0,216.6 359.0,214.3 360.0,212.2 361.0,210.1 362.0,207.8 363.0,204.9 364.0,201.6 365.0,197.9 366.0,194.2 367.0,190.7 368.0,186.1 369.0,181.1 370.0,176.3 371.0,171.5 372.0,166.8 373.0,162.4 374.0,158.5 375.0,154.7 376.0,151.1 377.0,147.4 378.0,143.7 379.0,140.1 380.0,136.4 381.0,132.8 382.0,129.4 383.0,126.0 384.0,122.5 385.0,119.1 386.0,115.5 387.0,111.8 388.0,108.0 389.0,104.1 390.0,100.4 391.0,96.8 392.0,93.4 393.0,90.1 394.0,86.9 395.0,83.8 396.0,80.8 397.0,78.0 398.0,75.3 399.0,72.6 400.0,70.1 401.0,67.7 402.0,65.4 403.0,63.2 404.0,61.2 405.0,59.2 406.0,57.4 407.0,55.7 408.0,54.2 409.0,52.8 410.0,51.6 411.0,50.4 412.0,49.3 413.0,48.4 414.0,47.6 415.0,46.9 416.0,46.2 417.0,45.6 418.0,45.1 419.0,44.7 420.0,44.3 421.0,43.9 422.0,43.5 423.0,43.1 424.0,42.8 425.0,42.6 426.0,42.3 427.0,42.1 428.0,41.9 429.0,41.8 430.0,41.7 433.0,41.3 436.0,40.9 439.0,40.7 442.0,40.6 445.0,40.6 448.0,40.5 451.0,40.4 454.0,40.4 457.0,40.3 460.0,40.3 463.0,40.3 466.0,40.2 469.0,40.2 472.0,40.2 475.0,40.2 478.0,40.2 481.0,40.2 484.0,40.2 487.0,40.2 490.0,40.2 493.0,40.2 496.0,40.2 499.0,40.2 502.0,40.1 505.0,40.1 508.0,40.1 511.0,40.0 514.0,40.0 517.0,39.9 520.0,39.9 523.0,39.8 526.0,39.7 529.0,39.7 532.0,39.5 535.0,39.3 538.0,39.2 541.0,39.0 544.0,38.8 547.0,38.7 550.0,38.5 553.0,38.4 556.0,38.2 559.0,38.1 562.0,38.0 565.0,37.9 568.0,37.8 571.0,37.7 574.0,37.6 577.0,37.5 580.0,37.5 583.0,37.4 586.0,37.3 589.0,37.3 592.0,37.4 595.0,37.6 598.0,38.0 601.0,38.5 604.0,39.0 607.0,39.3 610.0,39.4 613.0,39.5 616.0,39.4 619.0,39.3 622.0,39.2 625.0,39.1 628.0,38.9 631.0,38.6 634.0,38.4 637.0,38.2 640.0,38.0 643.0,37.7 646.0,37.5 649.0,37.1 652.0,36.8 655.0,36.5 658.0,36.1 661.0,35.8 664.0,35.4 667.0,34.9 670.0,34.3 673.0,33.9 676.0,33.6 677.0,33.6 678.0,33.8 680.0,36.0 682.0,39.4" stroke="#1470c0"/>
<polyline points="48.5,116.4 50.5,124.9 52.5,132.9 54.5,140.4 56.5,147.4 58.5,154.0 60.5,159.5 62.5,163.9 64.5,167.6 66.5,170.9 68.5,174.1 70.5,177.1 72.5,180.2 74.5,183.0 76.5,185.7 78.5,188.0 80.5,190.3 82.5,192.4 84.5,194.3 86.5,196.1 88.5,197.8 90.5,199.2 92.5,200.5 94.5,201.5 96.5,202.5 98.5,203.4 100.5,204.2 102.5,204.9 104.5,205.6 106.5,206.3 108.5,206.9 110.5,207.5 112.5,208.1 114.5,208.7 116.5,209.3 118.5,209.9 120.5,210.5 122.5,211.0 124.5,211.4 126.5,211.9 128.5,212.3 130.5,212.6 132.5,213.0 134.5,213.3 136.5,213.6 138.5,214.0 140.5,214.3 142.5,214.7 144.5,215.0 146.5,215.2 148.5,215.3 150.5,215.2 152.5,215.0 154.5,214.8 156.5,214.5 158.5,214.1 160.5,213.3 162.5,212.1 164.5,210.5 166.5,208.9 168.5,207.0 170.5,204.6 172.5,201.6 174.5,198.4 176.5,195.1 178.5,191.8 180.5,188.5 182.5,185.4 184.5,182.4 186.5,179.5 188.5,176.6 190.5,174.1 192.5,172.2 194.5,170.7 196.5,169.5 198.5,168.5 200.5,167.7 202.5,167.0 204.5,166.4 206.5,166.1 208.5,165.8 210.5,165.7 212.5,165.7 214.5,165.8 216.5,166.3 218.5,166.8 220.5,167.7 222.5,169.1 224.5,170.7 226.5,172.3 228.5,174.2 230.5,176.2 232.5,178.2 234.5,180.2 236.5,182.3 238.5,184.2 240.5,186.0 242.5,187.5 244.5,188.9 246.5,190.1 248.5,191.3 250.5,192.3 252.5,193.2 254.5,194.0 256.5,194.7 258.5,195.2 260.5,195.8 262.5,196.5 264.5,197.3 266.5,198.1 268.5,198.9 270.5,199.8 272.5,200.8 274.5,201.8 276.5,202.7 278.5,203.7 280.5,204.6 282.5,205.5 284.5,206.4 286.5,207.1 288.5,207.8 290.5,208.3 292.5,208.7 294.5,209.1 296.5,209.4 298.5,209.8 300.5,210.4 302.5,211.1 304.5,211.9 306.5,212.9 308.5,213.9 310.5,214.7 312.5,215.5 314.5,216.4 316.5,217.2 318.5,218.1 320.5,219.0 322.5,219.9 324.5,220.7 326.5,221.5 328.5,222.2 330.5,222.8 332.5,223.4 334.5,223.9 336.5,224.3 338.5,224.7 340.5,225.1 342.5,225.3 344.5,225.4 346.5,225.2 348.5,224.9 350.0,224.6 351.0,224.3 352.0,223.9 353.0,223.2 354.0,222.4 355.0,221.6 356.0,220.6 357.0,219.3 358.0,217.5 359.0,215.4 360.0,213.3 361.0,211.3 362.0,209.0 363.0,206.3 364.0,203.1 365.0,199.5 366.0,195.9 367.0,192.4 368.0,187.9 369.0,183.1 370.0,178.4 371.0,173.6 372.0,168.9 373.0,164.7 374.0,160.8 375.0,157.2 376.0,153.5 377.0,149.8 378.0,146.1 379.0,142.3 380.0,138.6 381.0,135.0 382.0,131.5 383.0,128.1 384.0,124.7 385.0,121.2 386.0,117.6 387.0,113.9 388.0,110.1 389.0,106.2 390.0,102.4 391.0,98.8 392.0,95.4 393.0,92.0 394.0,88.8 395.0,85.6 396.0,82.6 397.0,79.8 398.0,77.0 399.0,74.4 400.0,71.8 401.0,69.4 402.0,67.1 403.0,64.9 404.0,62.9 405.0,60.9 406.0,59.0 407.0,57.4 408.0,55.8 409.0,54.4 410.0,53.1 411.0,52.0 412.0,50.9 413.0,49.9 414.0,49.1 415.0,48.4 416.0,47.7 417.0,47.1 418.0,46.5 419.0,46.1 420.0,45.7 421.0,45.2 422.0,44.9 423.0,44.5 424.0,44.2 425.0,43.9 426.0,43.7 427.0,43.5 428.0,43.3 429.0,43.2 430.0,43.0 433.0,42.7 436.0,42.4 439.0,42.2 442.0,42.1 445.0,42.1 448.0,42.0 451.0,42.0 454.0,42.0 457.0,41.9 460.0,41.9 463.0,41.9 466.0,41.8 469.0,41.8 472.0,41.7 475.0,41.7 478.0,41.6 481.0,41.5 484.0,41.5 487.0,41.4 490.0,41.4 493.0,41.3 496.0,41.2 499.0,41.1 502.0,41.1 505.0,41.0 508.0,40.9 511.0,40.8 514.0,40.7 517.0,40.6 520.0,40.6 523.0,40.5 526.0,40.3 529.0,40.2 532.0,40.1 535.0,40.0 538.0,39.8 541.0,39.7 544.0,39.5 547.0,39.4 550.0,39.3 553.0,39.2 556.0,39.1 559.0,39.0 562.0,38.9 565.0,38.9 568.0,38.8 571.0,38.8 574.0,38.7 577.0,38.7 580.0,38.6 583.0,38.6 586.0,38.6 589.0,38.5 592.0,38.6 595.0,38.9 598.0,39.3 601.0,39.7 604.0,40.1 607.0,40.4 610.0,40.4 613.0,40.4 616.0,40.3 619.0,40.2 622.0,40.0 625.0,39.8 628.0,39.6 631.0,39.5 634.0,39.3 637.0,39.1 640.0,38.9 643.0,38.7 646.0,38.4 649.0,38.1 652.0,37.8 655.0,37.5 658.0,37.2 661.0,36.9 664.0,36.5 667.0,36.0 670.0,35.5 673.0,35.1 676.0,34.8 677.0,34.8 678.0,35.0 680.0,37.1 682.0,40.4" stroke="#1470c0"/>
<polyline points="48.5,118.1 50.5,126.8 52.5,134.9 54.5,142.4 56.5,149.3 58.5,155.8 60.5,161.2 62.5,165.4 64.5,169.1 66.5,172.3 68.5,175.3 70.5,178.3 72.5,181.3 74.5,184.1 76.5,186.7 78.5,189.0 80.5,191.2 82.5,193.3 84.5,195.2 86.5,197.0 88.5,198.6 90.5,200.1 92.5,201.3 94.5,202.4 96.5,203.4 98.5,204.2 100.5,205.0 102.5,205.7 104.5,206.4 106.5,207.1 108.5,207.7 110.5,208.3 112.5,208.8 114.5,209.4 116.5,210.0 118.5,210.6 120.5,211.1 122.5,211.6 124.5,212.1 126.5,212.5 128.5,212.9 130.5,213.3 132.5,213.6 134.5,213.9 136.5,214.3 138.5,214.6 140.5,214.9 142.5,215.3 144.5,215.6 146.5,215.8 148.5,215.9 150.5,215.8 152.5,215.6 154.5,215.4 156.5,215.1 158.5,214.7 160.5,214.0 162.5,212.8 164.5,211.4 166.5,209.9 168.5,208.0 170.5,205.6 172.5,202.7 174.5,199.7 176.5,196.5 178.5,193.5 180.5,190.4 182.5,187.5 184.5,184.8 186.5,182.0 188.5,179.2 190.5,176.8 192.5,175.0 194.5,173.6 196.5,172.5 198.5,171.6 200.5,170.9 202.5,170.3 204.5,169.9 206.5,169.6 208.5,169.5 210.5,169.4 212.5,169.5 214.5,169.7 216.5,170.1 218.5,170.6 220.5,171.5 222.5,172.8 224.5,174.2 226.5,175.8 228.5,177.6 230.5,179.5 232.5,181.5 234.5,183.5 236.5,185.4 238.5,187.3 240.5,189.0 242.5,190.6 244.5,191.9 246.5,193.1 248.5,194.2 250.5,195.2 252.5,196.1 254.5,196.8 256.5,197.5 258.5,198.0 260.5,198.6 262.5,199.3 264.5,200.0 266.5,200.8 268.5,201.6 270.5,202.4 272.5,203.3 274.5,204.2 276.5,205.1 278.5,206.0 280.5,206.9 282.5,207.7 284.5,208.5 286.5,209.2 288.5,209.7 290.5,210.2 292.5,210.5 294.5,210.8 296.5,211.1 298.5,211.5 300.5,212.1 302.5,212.7 304.5,213.5 306.5,214.5 308.5,215.3 310.5,216.2 312.5,216.9 314.5,217.7 316.5,218.5 318.5,219.3 320.5,220.2 322.5,221.0 324.5,221.8 326.5,222.4 328.5,223.1 330.5,223.7 332.5,224.2 334.5,224.6 336.5,225.0 338.5,225.4 340.5,225.8 342.5,226.0 344.5,226.0 346.5,225.9 348.5,225.5 350.0,225.2 351.0,225.0 352.0,224.6 353.0,223.9 354.0,223.2 355.0,222.4 356.0,221.4 357.0,220.2 358.0,218.5 359.0,216.5 360.0,214.5 361.0,212.5 362.0,210.3 363.0,207.6 364.0,204.5 365.0,201.1 366.0,197.6 367.0,194.1 368.0,189.8 369.0,185.0 370.0,180.4 371.0,175.7 372.0,171.1 373.0,167.0 374.0,163.2 375.0,159.6 376.0,155.9 377.0,152.2 378.0,148.4 379.0,144.6 380.0,140.9 381.0,137.2 382.0,133.7 383.0,130.3 384.0,126.8 385.0,123.3 386.0,119.8 387.0,116.0 388.0,112.2 389.0,108.3 390.0,104.5 391.0,100.8 392.0,97.3 393.0,93.9 394.0,90.6 395.0,87.5 396.0,84.4 397.0,81.6 398.0,78.8 399.0,76.1 400.0,73.6 401.0,71.1 402.0,68.8 403.0,66.6 404.0,64.5 405.0,62.5 406.0,60.7 407.0,59.0 408.0,57.4 409.0,56.0 410.0,54.7 411.0,53.5 412.0,52.4 413.0,51.5 414.0,50.6 415.0,49.8 416.0,49.1 417.0,48.5 418.0,48.0 419.0,47.5 420.0,47.0 421.0,46.6 422.0,46.2 423.0,45.9 424.0,45.6 425.0,45.3 426.0,45.1 427.0,44.9 428.0,44.7 429.0,44.6 430.0,44.4 433.0,44.1 436.0,43.8 439.0,43.7 442.0,43.6 445.0,43.6 448.0,43.5 451.0,43.5 454.0,43.4 457.0,43.4 460.0,43.3 463.0,43.3 466.0,43.2 469.0,43.1 472.0,43.0 475.0,42.9 478.0,42.8 481.0,42.7 484.0,42.5 487.0,42.4 490.0,42.3 493.0,42.2 496.0,42.1 499.0,42.0 502.0,41.9 505.0,41.7 508.0,41.6 511.0,41.5 514.0,41.4 517.0,41.3 520.0,41.2 523.0,41.1 526.0,41.0 529.0,40.9 532.0,40.8 535.0,40.7 538.0,40.6 541.0,40.5 544.0,40.4 547.0,40.3 550.0,40.2 553.0,40.2 556.0,40.1 559.0,40.1 562.0,40.0 565.0,40.0 568.0,40.0 571.0,40.0 574.0,40.0 577.0,39.9 580.0,39.9 583.0,39.9 586.0,39.9 589.0,39.9 592.0,40.0 595.0,40.3 598.0,40.6 601.0,41.0 604.0,41.3 607.0,41.5 610.0,41.5 613.0,41.4 616.0,41.3 619.0,41.1 622.0,40.9 625.0,40.7 628.0,40.5 631.0,40.3 634.0,40.1 637.0,39.9 640.0,39.7 643.0,39.4 646.0,39.1 649.0,38.8 652.0,38.4 655.0,38.1 658.0,37.7 661.0,37.4 664.0,37.0 667.0,36.5 670.0,35.9 673.0,35.5 676.0,35.2 677.0,35.2 678.0,35.4 680.0,37.4 682.0,40.8" stroke="#1470c0"/>
<polyline points="48.5,119.8 50.5,128.6 52.5,136.8 54.5,144.4 56.5,151.3 58.5,157.6 60.5,162.9 62.5,167.0 64.5,170.5 66.5,173.7 68.5,176.6 70.5,179.5 72.5,182.4 74.5,185.2 76.5,187.7 78.5,190.0 80.5,192.2 82.5,194.3 84.5,196.2 86.5,197.9 88.5,199.5 90.5,200.9 92.5,202.2 94.5,203.3 96.5,204.3 98.5,205.1 100.5,205.9 102.5,206.6 104.5,207.2 106.5,207.8 108.5,208.4 110.5,209.0 112.5,209.6 114.5,210.2 116.5,210.7 118.5,211.3 120.5,211.8 122.5,212.3 124.5,212.7 126.5,213.2 128.5,213.5 130.5,213.9 132.5,214.2 134.5,214.6 136.5,214.9 138.5,215.2 140.5,215.5 142.5,215.9 144.5,216.2 146.5,216.4 148.5,216.4 150.5,216.4 152.5,216.2 154.5,216.0 156.5,215.7 158.5,215.3 160.5,214.6 162.5,213.5 164.5,212.1 166.5,210.6 168.5,208.7 170.5,206.3 172.5,203.4 174.5,200.4 176.5,197.4 178.5,194.4 180.5,191.4 182.5,188.6 184.5,186.0 186.5,183.2 188.5,180.4 190.5,178.0 192.5,176.2 194.5,174.8 196.5,173.7 198.5,172.8 200.5,172.1 202.5,171.5 204.5,171.1 206.5,170.8 208.5,170.7 210.5,170.7 212.5,170.7 214.5,170.9 216.5,171.4 218.5,171.9 220.5,172.8 222.5,174.0 224.5,175.5 226.5,177.1 228.5,178.8 230.5,180.7 232.5,182.7 234.5,184.7 236.5,186.7 238.5,188.6 240.5,190.3 242.5,191.8 244.5,193.2 246.5,194.4 248.5,195.4 250.5,196.4 252.5,197.3 254.5,198.1 256.5,198.8 258.5,199.4 260.5,200.0 262.5,200.6 264.5,201.4 266.5,202.1 268.5,202.9 270.5,203.7 272.5,204.6 274.5,205.5 276.5,206.4 278.5,207.3 280.5,208.1 282.5,208.9 284.5,209.7 286.5,210.4 288.5,210.9 290.5,211.3 292.5,211.7 294.5,212.0 296.5,212.3 298.5,212.7 300.5,213.2 302.5,213.9 304.5,214.7 306.5,215.6 308.5,216.5 310.5,217.3 312.5,218.1 314.5,218.8 316.5,219.6 318.5,220.4 320.5,221.2 322.5,222.0 324.5,222.7 326.5,223.4 328.5,223.9 330.5,224.5 332.5,225.0 334.5,225.4 336.5,225.8 338.5,226.1 340.5,226.4 342.5,226.7 344.5,226.7 346.5,226.5 348.5,226.2 350.0,225.9 351.0,225.6 352.0,225.2 353.0,224.7 354.0,224.0 355.0,223.2 356.0,222.3 357.0,221.1 358.0,219.4 359.0,217.5 360.0,215.6 361.0,213.6 362.0,211.5 363.0,208.9 364.0,205.9 365.0,202.6 366.0,199.2 367.0,195.8 368.0,191.5 369.0,186.9 370.0,182.3 371.0,177.7 372.0,173.1 373.0,169.0 374.0,165.4 375.0,161.8 376.0,158.1 377.0,154.4 378.0,150.5 379.0,146.7 380.0,142.9 381.0,139.2 382.0,135.6 383.0,132.2 384.0,128.7 385.0,125.2 386.0,121.6 387.0,117.9 388.0,114.0 389.0,110.1 390.0,106.2 391.0,102.5 392.0,98.9 393.0,95.5 394.0,92.2 395.0,89.0 396.0,85.9 397.0,83.0 398.0,80.2 399.0,77.5 400.0,74.9 401.0,72.5 402.0,70.2 403.0,67.9 404.0,65.8 405.0,63.8 406.0,61.9 407.0,60.2 408.0,58.6 409.0,57.2 410.0,55.8 411.0,54.6 412.0,53.5 413.0,52.5 414.0,51.6 415.0,50.8 416.0,50.1 417.0,49.4 418.0,48.9 419.0,48.3 420.0,47.9 421.0,47.4 422.0,47.1 423.0,46.7 424.0,46.4 425.0,46.1 426.0,45.9 427.0,45.7 428.0,45.6 429.0,45.4 430.0,45.3 433.0,44.9 436.0,44.7 439.0,44.5 442.0,44.4 445.0,44.3 448.0,44.3 451.0,44.2 454.0,44.1 457.0,44.0 460.0,43.9 463.0,43.8 466.0,43.7 469.0,43.6 472.0,43.5 475.0,43.4 478.0,43.3 481.0,43.1 484.0,43.0 487.0,42.9 490.0,42.8 493.0,42.7 496.0,42.6 499.0,42.6 502.0,42.5 505.0,42.4 508.0,42.3 511.0,42.2 514.0,42.2 517.0,42.1 520.0,42.0 523.0,41.9 526.0,41.8 529.0,41.8 532.0,41.7 535.0,41.6 538.0,41.6 541.0,41.5 544.0,41.5 547.0,41.4 550.0,41.4 553.0,41.4 556.0,41.4 559.0,41.3 562.0,41.3 565.0,41.3 568.0,41.3 571.0,41.3 574.0,41.3 577.0,41.3 580.0,41.3 583.0,41.2 586.0,41.2 589.0,41.2 592.0,41.3 595.0,41.5 598.0,41.8 601.0,42.1 604.0,42.3 607.0,42.4 610.0,42.4 613.0,42.2 616.0,42.0 619.0,41.8 622.0,41.5 625.0,41.2 628.0,41.0 631.0,40.7 634.0,40.5 637.0,40.3 640.0,40.1 643.0,39.8 646.0,39.5 649.0,39.2 652.0,38.8 655.0,38.5 658.0,38.1 661.0,37.7 664.0,37.3 667.0,36.8 670.0,36.3 673.0,35.9 676.0,35.6 677.0,35.6 678.0,35.7 680.0,37.8 682.0,41.1" stroke="#1470c0"/>
<polyline points="48.5,123.2 50.5,132.4 52.5,140.9 54.5,148.7 56.5,155.5 58.5,161.6 60.5,166.7 62.5,170.7 64.5,174.0 66.5,177.0 68.5,179.8 70.5,182.5 72.5,185.2 74.5,187.9 76.5,190.5 78.5,192.8 80.5,195.1 82.5,197.1 84.5,199.0 86.5,200.8 88.5,202.4 90.5,203.9 92.5,205.2 94.5,206.4 96.5,207.4 98.5,208.3 100.5,209.1 102.5,209.8 104.5,210.5 106.5,211.2 108.5,211.8 110.5,212.3 112.5,212.8 114.5,213.4 116.5,213.8 118.5,214.3 120.5,214.8 122.5,215.2 124.5,215.6 126.5,216.0 128.5,216.4 130.5,216.7 132.5,217.1 134.5,217.4 136.5,217.7 138.5,218.0 140.5,218.3 142.5,218.6 144.5,218.9 146.5,219.1 148.5,219.1 150.5,219.1 152.5,218.9 154.5,218.7 156.5,218.5 158.5,218.3 160.5,217.7 162.5,216.6 164.5,215.2 166.5,213.7 168.5,211.6 170.5,209.1 172.5,206.2 174.5,203.4 176.5,200.5 178.5,197.6 180.5,194.8 182.5,192.1 184.5,189.5 186.5,186.7 188.5,183.7 190.5,181.1 192.5,179.1 194.5,177.6 196.5,176.3 198.5,175.2 200.5,174.4 202.5,173.7 204.5,173.1 206.5,172.7 208.5,172.4 210.5,172.2 212.5,172.2 214.5,172.4 216.5,172.8 218.5,173.4 220.5,174.3 222.5,175.5 224.5,176.9 226.5,178.5 228.5,180.2 230.5,182.1 232.5,184.1 234.5,186.1 236.5,188.0 238.5,189.9 240.5,191.6 242.5,193.2 244.5,194.5 246.5,195.7 248.5,196.8 250.5,197.7 252.5,198.6 254.5,199.4 256.5,200.1 258.5,200.7 260.5,201.3 262.5,202.0 264.5,202.7 266.5,203.5 268.5,204.2 270.5,205.0 272.5,205.9 274.5,206.8 276.5,207.7 278.5,208.6 280.5,209.4 282.5,210.2 284.5,210.9 286.5,211.6 288.5,212.1 290.5,212.5 292.5,212.8 294.5,213.1 296.5,213.4 298.5,213.8 300.5,214.4 302.5,215.1 304.5,215.9 306.5,216.8 308.5,217.6 310.5,218.4 312.5,219.2 314.5,219.9 316.5,220.7 318.5,221.5 320.5,222.2 322.5,223.0 324.5,223.7 326.5,224.3 328.5,224.8 330.5,225.3 332.5,225.8 334.5,226.1 336.5,226.5 338.5,226.8 340.5,227.1 342.5,227.3 344.5,227.3 346.5,227.2 348.5,226.9 350.0,226.5 351.0,226.3 352.0,225.9 353.0,225.4 354.0,224.7 355.0,224.0 356.0,223.1 357.0,221.9 358.0,220.4 359.0,218.6 360.0,216.7 361.0,214.8 362.0,212.6 363.0,210.1 364.0,207.3 365.0,204.1 366.0,200.8 367.0,197.4 368.0,193.2 369.0,188.6 370.0,184.2 371.0,179.6 372.0,175.1 373.0,171.1 374.0,167.4 375.0,163.9 376.0,160.2 377.0,156.4 378.0,152.6 379.0,148.6 380.0,144.8 381.0,141.0 382.0,137.4 383.0,133.9 384.0,130.4 385.0,126.9 386.0,123.3 387.0,119.6 388.0,115.7 389.0,111.7 390.0,107.8 391.0,104.0 392.0,100.4 393.0,96.9 394.0,93.5 395.0,90.3 396.0,87.2 397.0,84.2 398.0,81.4 399.0,78.7 400.0,76.1 401.0,73.6 402.0,71.3 403.0,69.0 404.0,66.9 405.0,64.8 406.0,62.9 407.0,61.1 408.0,59.5 409.0,58.1 410.0,56.7 411.0,55.4 412.0,54.3 413.0,53.3 414.0,52.4 415.0,51.5 416.0,50.8 417.0,50.1 418.0,49.5 419.0,48.9 420.0,48.4 421.0,48.0 422.0,47.6 423.0,47.3 424.0,47.0 425.0,46.7 426.0,46.5 427.0,46.3 428.0,46.1 429.0,46.0 430.0,45.8 433.0,45.5 436.0,45.2 439.0,45.0 442.0,44.8 445.0,44.8 448.0,44.7 451.0,44.6 454.0,44.5 457.0,44.4 460.0,44.2 463.0,44.1 466.0,44.0 469.0,43.9 472.0,43.8 475.0,43.8 478.0,43.7 481.0,43.6 484.0,43.6 487.0,43.5 490.0,43.5 493.0,43.4 496.0,43.4 499.0,43.3 502.0,43.3 505.0,43.2 508.0,43.2 511.0,43.1 514.0,43.1 517.0,43.0 520.0,43.0 523.0,42.9 526.0,42.9 529.0,42.8 532.0,42.7 535.0,42.7 538.0,42.7 541.0,42.6 544.0,42.6 547.0,42.6 550.0,42.5 553.0,42.5 556.0,42.5 559.0,42.5 562.0,42.4 565.0,42.4 568.0,42.4 571.0,42.4 574.0,42.4 577.0,42.3 580.0,42.3 583.0,42.3 586.0,42.3 589.0,42.2 592.0,42.3 595.0,42.5 598.0,42.7 601.0,43.0 604.0,43.1 607.0,43.1 610.0,43.0 613.0,42.7 616.0,42.5 619.0,42.2 622.0,41.9 625.0,41.5 628.0,41.3 631.0,41.1 634.0,40.9 637.0,40.7 640.0,40.4 643.0,40.2 646.0,39.9 649.0,39.6 652.0,39.2 655.0,38.9 658.0,38.5 661.0,38.2 664.0,37.8 667.0,37.3 670.0,36.8 673.0,36.4 676.0,36.1 677.0,36.1 678.0,36.3 680.0,38.3 682.0,41.6" stroke="#1470c0"/>
<polyline points="48.5,124.9 50.5,134.3 52.5,142.9 54.5,150.8 56.5,157.5 58.5,163.5 60.5,168.4 62.5,172.3 64.5,175.6 66.5,178.5 68.5,181.2 70.5,183.8 72.5,186.5 74.5,189.1 76.5,191.6 78.5,193.9 80.5,196.2 82.5,198.2 84.5,200.1 86.5,201.8 88.5,203.4 90.5,204.9 92.5,206.3 94.5,207.4 96.5,208.4 98.5,209.3 100.5,210.1 102.5,210.8 104.5,211.5 106.5,212.1 108.5,212.7 110.5,213.3 112.5,213.8 114.5,214.3 116.5,214.8 118.5,215.2 120.5,215.7 122.5,216.1 124.5,216.5 126.5,216.9 128.5,217.2 130.5,217.6 132.5,217.9 134.5,218.2 136.5,218.5 138.5,218.9 140.5,219.2 142.5,219.5 144.5,219.8 146.5,220.0 148.5,220.0 150.5,220.0 152.5,219.9 154.5,219.7 156.5,219.5 158.5,219.3 160.5,218.8 162.5,217.7 164.5,216.3 166.5,214.8 168.5,212.8 170.5,210.2 172.5,207.3 174.5,204.6 176.5,201.7 178.5,198.9 180.5,196.2 182.5,193.6 184.5,191.1 186.5,188.3 188.5,185.3 190.5,182.6 192.5,180.6 194.5,179.0 196.5,177.7 198.5,176.6 200.5,175.8 202.5,175.0 204.5,174.4 206.5,174.0 208.5,173.6 210.5,173.4 212.5,173.4 214.5,173.6 216.5,174.1 218.5,174.7 220.5,175.6 222.5,176.8 224.5,178.2 226.5,179.8 228.5,181.5 230.5,183.4 232.5,185.4 234.5,187.4 236.5,189.3 238.5,191.2 240.5,193.0 242.5,194.5 244.5,195.9 246.5,197.1 248.5,198.1 250.5,199.1 252.5,200.0 254.5,200.8 256.5,201.5 258.5,202.1 260.5,202.8 262.5,203.5 264.5,204.2 266.5,204.9 268.5,205.7 270.5,206.4 272.5,207.3 274.5,208.2 276.5,209.0 278.5,209.9 280.5,210.7 282.5,211.5 284.5,212.2 286.5,212.8 288.5,213.3 290.5,213.7 292.5,214.0 294.5,214.3 296.5,214.6 298.5,215.0 300.5,215.5 302.5,216.2 304.5,217.0 306.5,217.9 308.5,218.7 310.5,219.5 312.5,220.2 314.5,221.0 316.5,221.7 318.5,222.4 320.5,223.2 322.5,223.9 324.5,224.6 326.5,225.1 328.5,225.6 330.5,226.1 332.5,226.5 334.5,226.8 336.5,227.1 338.5,227.5 340.5,227.7 342.5,227.9 344.5,227.9 346.5,227.8 348.5,227.4 350.0,227.1 351.0,226.9 352.0,226.5 353.0,226.1 354.0,225.5 355.0,224.8 356.0,224.0 357.0,222.9 358.0,221.5 359.0,219.9 360.0,218.1 361.0,216.3 362.0,214.3 363.0,212.0 364.0,209.4 365.0,206.5 366.0,203.4 367.0,200.2 368.0,196.2 369.0,192.1 370.0,187.9 371.0,183.6 372.0,179.2 373.0,175.5 374.0,172.2 375.0,169.0 376.0,165.5 377.0,161.8 378.0,157.9 379.0,154.1 380.0,150.2 381.0,146.5 382.0,143.0 383.0,139.6 384.0,136.2 385.0,132.9 386.0,129.4 387.0,125.9 388.0,122.1 389.0,118.2 390.0,114.3 391.0,110.5 392.0,106.9 393.0,103.5 394.0,100.1 395.0,96.9 396.0,93.9 397.0,91.0 398.0,88.3 399.0,85.8 400.0,83.3 401.0,81.0 402.0,78.8 403.0,76.6 404.0,74.5 405.0,72.6 406.0,70.8 407.0,69.2 408.0,67.7 409.0,66.3 410.0,65.0 411.0,63.9 412.0,62.9 413.0,62.0 414.0,61.2 415.0,60.4 416.0,59.8 417.0,59.2 418.0,58.6 419.0,58.2 420.0,57.7 421.0,57.3 422.0,56.9 423.0,56.6 424.0,56.3 425.0,56.1 426.0,55.9 427.0,55.7 428.0,55.6 429.0,55.4 430.0,55.3 433.0,55.0 436.0,54.7 439.0,54.5 442.0,54.4 445.0,54.3 448.0,54.3 451.0,54.2 454.0,54.1 457.0,54.0 460.0,53.9 463.0,53.9 466.0,53.8 469.0,53.7 472.0,53.7 475.0,53.7 478.0,53.6 481.0,53.6 484.0,53.6 487.0,53.6 490.0,53.5 493.0,53.5 496.0,53.5 499.0,53.4 502.0,53.4 505.0,53.3 508.0,53.3 511.0,53.2 514.0,53.2 517.0,53.1 520.0,53.0 523.0,52.9 526.0,52.8 529.0,52.6 532.0,52.5 535.0,52.4 538.0,52.3 541.0,52.1 544.0,52.0 547.0,51.9 550.0,51.7 553.0,51.6 556.0,51.5 559.0,51.4 562.0,51.3 565.0,51.3 568.0,51.2 571.0,51.1 574.0,51.0 577.0,50.9 580.0,50.8 583.0,50.8 586.0,50.7 589.0,50.6 592.0,50.6 595.0,50.5 598.0,50.5 601.0,50.5 604.0,50.5 607.0,50.5 610.0,50.4 613.0,50.3 616.0,50.2 619.0,50.1 622.0,50.0 625.0,49.8 628.0,49.8 631.0,49.7 634.0,49.6 637.0,49.4 640.0,49.2 643.0,48.9 646.0,48.6 649.0,48.3 652.0,47.9 655.0,47.5 658.0,47.1 661.0,46.7 664.0,46.2 667.0,45.6 670.0,44.9 673.0,44.4 676.0,44.1 677.0,44.0 678.0,44.0 680.0,45.4 682.0,48.4" stroke="#1470c0"/>
<polyline points="48.5,121.3 50.5,130.4 52.5,138.7 54.5,146.4 56.5,153.3 58.5,159.5 60.5,164.7 62.5,168.8 64.5,172.2 66.5,175.3 68.5,178.2 70.5,181.0 72.5,183.8 74.5,186.5 76.5,189.1 78.5,191.4 80.5,193.7 82.5,195.7 84.5,197.6 86.5,199.4 88.5,201.0 90.5,202.5 92.5,203.8 94.5,204.9 96.5,205.9 98.5,206.8 100.5,207.6 102.5,208.3 104.5,209.0 106.5,209.6 108.5,210.2 110.5,210.8 112.5,211.4 114.5,211.9 116.5,212.4 118.5,213.0 120.5,213.5 122.5,213.9 124.5,214.4 126.5,214.8 128.5,215.2 130.5,215.5 132.5,215.9 134.5,216.2 136.5,216.5 138.5,216.8 140.5,217.2 142.5,217.5 144.5,217.8 146.5,218.0 148.5,218.1 150.5,218.0 152.5,217.9 154.5,217.7 156.5,217.5 158.5,217.2 160.5,216.6 162.5,215.4 164.5,214.0 166.5,212.5 168.5,210.4 170.5,207.9 172.5,205.0 174.5,202.1 176.5,199.0 178.5,196.0 180.5,193.1 182.5,190.3 184.5,187.6 186.5,184.7 188.5,181.7 190.5,179.1 192.5,177.1 194.5,175.6 196.5,174.3 198.5,173.3 200.5,172.4 202.5,171.7 204.5,171.1 206.5,170.7 208.5,170.4 210.5,170.2 212.5,170.2 214.5,170.5 216.5,171.0 218.5,171.7 220.5,172.7 222.5,174.0 224.5,175.6 226.5,177.3 228.5,179.1 230.5,181.1 232.5,183.2 234.5,185.3 236.5,187.4 238.5,189.3 240.5,191.2 242.5,192.8 244.5,194.2 246.5,195.5 248.5,196.6 250.5,197.7 252.5,198.6 254.5,199.5 256.5,200.2 258.5,200.9 260.5,201.6 262.5,202.2 264.5,202.9 266.5,203.7 268.5,204.4 270.5,205.2 272.5,206.0 274.5,206.9 276.5,207.7 278.5,208.6 280.5,209.4 282.5,210.2 284.5,210.9 286.5,211.5 288.5,212.0 290.5,212.4 292.5,212.7 294.5,213.0 296.5,213.2 298.5,213.6 300.5,214.1 302.5,214.8 304.5,215.6 306.5,216.5 308.5,217.3 310.5,218.0 312.5,218.8 314.5,219.5 316.5,220.3 318.5,221.0 320.5,221.8 322.5,222.6 324.5,223.3 326.5,223.8 328.5,224.4 330.5,224.9 332.5,225.4 334.5,225.8 336.5,226.1 338.5,226.5 340.5,226.8 342.5,227.0 344.5,227.0 346.5,226.8 348.5,226.5 350.0,226.2 351.0,226.0 352.0,225.6 353.0,225.0 354.0,224.4 355.0,223.7 356.0,222.8 357.0,221.7 358.0,220.2 359.0,218.4 360.0,216.6 361.0,214.7 362.0,212.7 363.0,210.3 364.0,207.5 365.0,204.5 366.0,201.3 367.0,198.0 368.0,193.9 369.0,189.6 370.0,185.3 371.0,181.0 372.0,176.6 373.0,172.8 374.0,169.4 375.0,166.1 376.0,162.6 377.0,159.0 378.0,155.2 379.0,151.4 380.0,147.6 381.0,144.0 382.0,140.6 383.0,137.2 384.0,133.9 385.0,130.6 386.0,127.2 387.0,123.6 388.0,119.9 389.0,116.1 390.0,112.2 391.0,108.5 392.0,105.0 393.0,101.6 394.0,98.4 395.0,95.2 396.0,92.2 397.0,89.4 398.0,86.8 399.0,84.2 400.0,81.8 401.0,79.5 402.0,77.4 403.0,75.2 404.0,73.2 405.0,71.3 406.0,69.6 407.0,68.0 408.0,66.5 409.0,65.2 410.0,64.0 411.0,62.9 412.0,62.0 413.0,61.1 414.0,60.3 415.0,59.6 416.0,59.0 417.0,58.5 418.0,58.0 419.0,57.6 420.0,57.2 421.0,56.8 422.0,56.4 423.0,56.0 424.0,55.8 425.0,55.5 426.0,55.3 427.0,55.2 428.0,55.0 429.0,54.9 430.0,54.8 433.0,54.5 436.0,54.2 439.0,54.1 442.0,54.0 445.0,53.9 448.0,53.9 451.0,53.8 454.0,53.8 457.0,53.8 460.0,53.7 463.0,53.7 466.0,53.6 469.0,53.6 472.0,53.5 475.0,53.4 478.0,53.3 481.0,53.2 484.0,53.1 487.0,53.0 490.0,52.9 493.0,52.8 496.0,52.6 499.0,52.5 502.0,52.4 505.0,52.2 508.0,52.1 511.0,51.9 514.0,51.8 517.0,51.6 520.0,51.4 523.0,51.2 526.0,51.0 529.0,50.8 532.0,50.7 535.0,50.6 538.0,50.5 541.0,50.4 544.0,50.3 547.0,50.2 550.0,50.1 553.0,50.1 556.0,50.0 559.0,49.9 562.0,49.9 565.0,49.9 568.0,49.8 571.0,49.8 574.0,49.8 577.0,49.8 580.0,49.8 583.0,49.7 586.0,49.7 589.0,49.7 592.0,49.8 595.0,49.8 598.0,49.9 601.0,50.0 604.0,50.0 607.0,50.0 610.0,49.9 613.0,49.9 616.0,49.8 619.0,49.7 622.0,49.6 625.0,49.6 628.0,49.6 631.0,49.6 634.0,49.5 637.0,49.5 640.0,49.4 643.0,49.2 646.0,48.9 649.0,48.7 652.0,48.4 655.0,48.0 658.0,47.7 661.0,47.3 664.0,46.9 667.0,46.4 670.0,45.8 673.0,45.2 676.0,45.0 677.0,44.9 678.0,44.9 680.0,46.2 682.0,49.2" stroke="#5b6b78" stroke-width="0.9"/>
</g>
<!-- x axis -->
<g stroke="#111" stroke-width="0.7"><line x1="45.9" y1="243.6" x2="45.9" y2="248.3"/><line x1="56.4" y1="246.2" x2="56.4" y2="248.3"/><line x1="66.9" y1="246.2" x2="66.9" y2="248.3"/><line x1="77.4" y1="246.2" x2="77.4" y2="248.3"/><line x1="87.9" y1="246.2" x2="87.9" y2="248.3"/><line x1="98.4" y1="246.2" x2="98.4" y2="248.3"/><line x1="108.9" y1="246.2" x2="108.9" y2="248.3"/><line x1="119.4" y1="246.2" x2="119.4" y2="248.3"/><line x1="129.9" y1="246.2" x2="129.9" y2="248.3"/><line x1="140.4" y1="246.2" x2="140.4" y2="248.3"/><line x1="150.9" y1="243.6" x2="150.9" y2="248.3"/><line x1="161.4" y1="246.2" x2="161.4" y2="248.3"/><line x1="171.9" y1="246.2" x2="171.9" y2="248.3"/><line x1="182.4" y1="246.2" x2="182.4" y2="248.3"/><line x1="192.9" y1="246.2" x2="192.9" y2="248.3"/><line x1="203.4" y1="246.2" x2="203.4" y2="248.3"/><line x1="213.9" y1="246.2" x2="213.9" y2="248.3"/><line x1="224.4" y1="246.2" x2="224.4" y2="248.3"/><line x1="234.9" y1="246.2" x2="234.9" y2="248.3"/><line x1="245.4" y1="246.2" x2="245.4" y2="248.3"/><line x1="255.9" y1="243.6" x2="255.9" y2="248.3"/><line x1="266.4" y1="246.2" x2="266.4" y2="248.3"/><line x1="276.9" y1="246.2" x2="276.9" y2="248.3"/><line x1="287.4" y1="246.2" x2="287.4" y2="248.3"/><line x1="297.9" y1="246.2" x2="297.9" y2="248.3"/><line x1="308.3" y1="246.2" x2="308.3" y2="248.3"/><line x1="318.8" y1="246.2" x2="318.8" y2="248.3"/><line x1="329.3" y1="246.2" x2="329.3" y2="248.3"/><line x1="339.8" y1="246.2" x2="339.8" y2="248.3"/><line x1="350.3" y1="246.2" x2="350.3" y2="248.3"/><line x1="360.8" y1="243.6" x2="360.8" y2="248.3"/><line x1="371.3" y1="246.2" x2="371.3" y2="248.3"/><line x1="381.8" y1="246.2" x2="381.8" y2="248.3"/><line x1="392.3" y1="246.2" x2="392.3" y2="248.3"/><line x1="402.8" y1="246.2" x2="402.8" y2="248.3"/><line x1="413.3" y1="246.2" x2="413.3" y2="248.3"/><line x1="423.8" y1="246.2" x2="423.8" y2="248.3"/><line x1="434.3" y1="246.2" x2="434.3" y2="248.3"/><line x1="444.8" y1="246.2" x2="444.8" y2="248.3"/><line x1="455.3" y1="246.2" x2="455.3" y2="248.3"/><line x1="465.8" y1="243.6" x2="465.8" y2="248.3"/><line x1="476.3" y1="246.2" x2="476.3" y2="248.3"/><line x1="486.8" y1="246.2" x2="486.8" y2="248.3"/><line x1="497.3" y1="246.2" x2="497.3" y2="248.3"/><line x1="507.8" y1="246.2" x2="507.8" y2="248.3"/><line x1="518.3" y1="246.2" x2="518.3" y2="248.3"/><line x1="528.8" y1="246.2" x2="528.8" y2="248.3"/><line x1="539.3" y1="246.2" x2="539.3" y2="248.3"/><line x1="549.8" y1="246.2" x2="549.8" y2="248.3"/><line x1="560.3" y1="246.2" x2="560.3" y2="248.3"/><line x1="570.8" y1="243.6" x2="570.8" y2="248.3"/><line x1="581.3" y1="246.2" x2="581.3" y2="248.3"/><line x1="591.8" y1="246.2" x2="591.8" y2="248.3"/><line x1="602.3" y1="246.2" x2="602.3" y2="248.3"/><line x1="612.8" y1="246.2" x2="612.8" y2="248.3"/><line x1="623.3" y1="246.2" x2="623.3" y2="248.3"/><line x1="633.8" y1="246.2" x2="633.8" y2="248.3"/><line x1="644.3" y1="246.2" x2="644.3" y2="248.3"/><line x1="654.8" y1="246.2" x2="654.8" y2="248.3"/><line x1="665.3" y1="246.2" x2="665.3" y2="248.3"/><line x1="675.8" y1="243.6" x2="675.8" y2="248.3"/></g>
<rect x="46.2" y="248.7" width="397.3" height="2.3" fill="url(#specA)"/>
<rect x="443" y="248.4" width="233.5" height="2.6" fill="#000"/>
<rect x="46" y="247.8" width="630.5" height="1" fill="#111"/>
<line x1="670" y1="246.6" x2="676.5" y2="246.6" stroke="#111" stroke-width="0.7"/>
<g class="sans" font-size="8.7" fill="#555"><text x="39.3" y="258.6" textLength="13.2" lengthAdjust="spacingAndGlyphs">400</text><text x="144.3" y="258.6" textLength="13.2" lengthAdjust="spacingAndGlyphs">500</text><text x="249.3" y="258.6" textLength="13.2" lengthAdjust="spacingAndGlyphs">600</text><text x="354.2" y="258.6" textLength="13.2" lengthAdjust="spacingAndGlyphs">700</text><text x="459.2" y="258.6" textLength="13.2" lengthAdjust="spacingAndGlyphs">800</text><text x="564.2" y="258.6" textLength="13.2" lengthAdjust="spacingAndGlyphs">900</text><text x="665.2" y="258.6" textLength="17.2" lengthAdjust="spacingAndGlyphs">1000</text></g>
<g class="serif" font-size="13"><text x="43.9" y="272.2" textLength="83" lengthAdjust="spacingAndGlyphs">Corresponding</text><text x="133.5" y="272.2" textLength="68.4" lengthAdjust="spacingAndGlyphs">wavelengths</text><text x="206.7" y="272.2" textLength="28.2" lengthAdjust="spacingAndGlyphs">(nm)</text></g>
<line x1="240.2" y1="268.6" x2="281" y2="268.6" stroke="#000" stroke-width="1.1"/>
<path d="M285.3,268.6 L279.6,265.9 L279.6,271.3 Z" fill="#000"/>

<!-- ===== Panel B ===== -->
<text class="serif" x="1.5" y="292.9" font-size="17.5">B)</text>
<rect x="33" y="284" width="547" height="303" fill="#c4c4c4"/>
<g fill="none" stroke-width="3" stroke-linejoin="round" stroke-linecap="round">
<polyline points="34.0,566.0 34.8,564.7 35.6,563.5 36.4,562.2 37.2,560.9 37.9,559.6 38.7,558.3 39.5,557.1 40.3,555.8 41.1,554.5 41.9,553.2 42.6,551.9 43.4,550.7 44.2,549.4 45.0,548.1 45.7,546.8 46.5,545.5 47.3,544.2 48.0,542.9 48.8,541.6 49.6,540.4 50.3,539.1 51.1,537.8 51.9,536.5 52.6,535.2 53.4,533.9 54.1,532.6 54.9,531.3 55.6,530.0 56.3,528.7 57.1,527.4 57.8,526.1 58.6,524.8 59.3,523.5 60.0,522.1 60.8,520.8 61.5,519.5 62.2,518.2 63.0,516.9 63.7,515.6 64.4,514.3 65.2,513.0 65.9,511.7 66.7,510.4 67.4,509.1 68.2,507.8 68.9,506.5 69.7,505.2 70.4,503.9 71.2,502.6 72.0,501.3 72.7,500.0 73.5,498.7 74.3,497.5 75.0,496.2 75.8,494.9 76.6,493.6 77.3,492.3 78.1,491.0 78.9,489.7 79.7,488.5 80.5,487.2 81.3,485.9 82.1,484.6 82.9,483.4 83.7,482.1 84.4,480.8 85.2,479.4 86.0,478.1 86.7,476.8 87.6,475.5 88.4,474.3 89.3,473.1 90.2,471.9 91.1,470.9 92.2,469.8 93.4,468.7 94.6,467.8 95.9,467.1 97.3,466.7 98.8,466.4 100.3,466.3 101.9,466.2 103.5,466.0 104.9,465.8 106.1,465.4 107.2,464.6 108.3,463.4 109.2,462.0 110.0,460.6 110.6,459.3 111.1,458.0 111.5,456.5 111.9,455.1 112.2,453.6 112.5,452.1 112.8,450.6 113.1,449.1 113.4,447.6 113.7,446.1 113.9,444.7 114.2,443.2 114.4,441.7 114.6,440.2 114.8,438.7 115.1,437.2 115.3,435.8 115.6,434.3 115.9,432.8 116.2,431.4 116.6,429.9 116.9,428.4 117.2,427.0 117.6,425.5 117.9,424.0 118.3,422.6 118.7,421.1 119.0,419.7 119.4,418.2 119.7,416.7 120.1,415.3 120.4,413.8 120.7,412.4 121.0,410.9 121.3,409.4 121.6,408.0 121.9,406.5 122.2,405.0 122.4,403.5 122.7,402.1 122.9,400.6 123.2,399.1 123.4,397.6 123.6,396.1 123.9,394.7 124.1,393.2 124.3,391.7 124.5,390.2 124.8,388.7 125.0,387.2 125.2,385.8 125.4,384.3 125.6,382.8 125.8,381.3 126.0,379.8 126.2,378.3 126.4,376.8 126.6,375.3 126.8,373.8 127.0,372.4 127.2,370.9 127.4,369.4 127.6,367.9 127.8,366.4 127.9,364.9 128.1,363.4 128.3,361.9 128.5,360.5 128.7,359.0 128.9,357.5 129.1,356.0 129.2,354.5 129.4,353.0 129.6,351.5 129.8,350.0 129.9,348.5 130.1,347.1 130.3,345.6 130.4,344.1 130.6,342.6 130.8,341.1 130.9,339.6 131.1,338.1 131.3,336.6 131.5,335.1 131.6,333.6 131.8,332.1 132.0,330.7 132.1,329.2 132.3,327.7 132.5,326.2 132.6,324.7 132.8,323.2 133.0,321.7 133.1,320.2 133.3,318.7 133.5,317.2 133.6,315.7 133.8,314.3 134.0,312.8 134.2,311.3 134.4,309.8 134.7,308.3 134.9,306.8 135.2,305.4 135.5,303.9 135.8,302.4 136.2,301.0 136.8,299.6 137.4,298.2 138.2,296.9 139.2,295.9 140.6,295.1 142.1,295.1 143.5,295.4 144.6,296.4 145.5,297.7 146.1,299.0 146.7,300.4 147.1,301.9 147.4,303.3 147.7,304.8 148.0,306.3 148.3,307.8 148.6,309.2 148.9,310.7 149.2,312.2 149.5,313.6 149.9,315.1 150.2,316.6 150.5,318.0 150.8,319.5 151.1,321.0 151.4,322.4 151.7,323.9 151.9,325.4 152.1,326.9 152.4,328.4 152.6,329.8 152.8,331.3 152.9,332.8 153.1,334.3 153.3,335.8 153.5,337.3 153.6,338.8 153.8,340.3 153.9,341.8 154.1,343.3 154.2,344.7 154.4,346.2 154.5,347.7 154.7,349.2 154.8,350.7 155.0,352.2 155.2,353.7 155.3,355.2 155.5,356.7 155.7,358.2 155.8,359.7 156.0,361.2 156.2,362.7 156.4,364.1 156.5,365.6 156.7,367.1 156.9,368.6 157.1,370.1 157.2,371.6 157.4,373.1 157.6,374.6 157.8,376.1 158.0,377.5 158.1,379.0 158.3,380.5 158.5,382.0 158.7,383.5 158.9,385.0 159.1,386.5 159.2,388.0 159.4,389.5 159.6,390.9 159.8,392.4 160.0,393.9 160.2,395.4 160.4,396.9 160.6,398.4 160.8,399.9 161.0,401.4 161.2,402.8 161.4,404.3 161.6,405.8 161.8,407.3 162.0,408.8 162.2,410.3 162.4,411.8 162.6,413.2 162.8,414.7 163.0,416.2 163.2,417.7 163.4,419.2 163.6,420.7 163.7,422.2 163.9,423.7 164.1,425.2 164.3,426.6 164.5,428.1 164.7,429.6 164.9,431.1 165.1,432.6 165.3,434.1 165.5,435.6 165.6,437.1 165.8,438.5 166.0,440.0 166.1,441.5 166.3,443.0 166.5,444.5 166.6,446.0 166.7,447.5 166.9,449.0 167.0,450.5 167.1,452.0 167.2,453.5 167.4,455.0 167.5,456.5 167.6,458.0 167.7,459.5 167.8,461.0 167.9,462.5 168.0,463.9 168.1,465.4 168.2,466.9 168.3,468.4 168.4,469.9 168.6,471.4 168.7,472.9 168.8,474.4 168.9,475.9 169.0,477.4 169.2,478.9 169.3,480.4 169.4,481.9 169.6,483.4 169.7,484.9 169.9,486.4 170.0,487.9 170.1,489.4 170.3,490.9 170.4,492.4 170.6,493.9 170.8,495.3 170.9,496.8 171.1,498.3 171.2,499.8 171.4,501.3 171.6,502.8 171.8,504.3 171.9,505.8 172.1,507.3 172.3,508.8 172.5,510.3 172.7,511.8 172.9,513.2 173.1,514.7 173.4,516.2 173.6,517.7 173.8,519.2 174.1,520.6 174.3,522.1 174.6,523.6 174.8,525.1 175.1,526.5 175.4,528.0 175.7,529.5 176.0,531.0 176.4,532.5 176.7,534.0 177.1,535.5 177.5,537.0 177.9,538.5 178.4,539.9 178.8,541.4 179.3,542.8 179.8,544.1 180.3,545.5 180.9,546.8 181.5,548.1 182.1,549.3 182.9,550.6 183.8,551.9 184.7,553.2 185.7,554.4 186.7,555.6 187.8,556.7 188.8,557.8 190.0,558.8 191.1,559.8 192.2,560.7 193.4,561.5 194.6,562.2 195.9,563.0 197.3,563.6 198.7,564.3 200.1,564.9 201.5,565.5 202.9,566.1 204.3,566.7 205.7,567.2 207.1,567.7 208.5,568.2 209.9,568.7 211.4,569.1 212.8,569.5 214.3,569.9 215.7,570.4 217.2,570.8 218.6,571.2 220.1,571.6 221.5,572.0 223.0,572.4 224.4,572.8 225.8,573.2 227.3,573.7 228.7,574.1 230.2,574.5 231.7,574.9 233.2,575.3 234.7,575.7 236.2,576.1 237.7,576.5 239.2,576.9 240.6,577.4 241.9,578.0 243.2,578.6 244.4,579.2 245.5,580.1 246.5,581.4 247.5,582.8 248.5,583.9 249.6,584.5 250.8,584.8 252.1,585.1 253.5,585.3 254.9,585.6 256.3,585.8 257.8,586.0 259.3,586.2 260.9,586.3 262.4,586.5 264.0,586.6 265.6,586.7 267.2,586.8 268.8,586.9 270.4,586.9 272.0,587.0 273.5,587.0 275.0,587.0 276.5,587.0 278.0,587.0 279.5,587.0 281.1,587.0 282.6,587.0 284.1,586.9 285.7,586.9 287.2,586.9 288.7,586.9 290.2,586.8 291.7,586.8 293.2,586.7 294.7,586.7 296.2,586.6 297.6,586.6 299.1,586.5 300.5,586.5 301.9,586.2 303.2,585.8 304.6,585.2 305.9,584.6 307.3,583.8 308.6,583.0 309.9,582.1 311.3,581.2 312.6,580.4 313.9,579.7 315.3,579.0 316.6,578.3 318.0,577.6 319.3,576.8 320.7,576.1 322.0,575.3 323.3,574.5 324.7,573.8 326.0,573.1 327.4,572.4 328.8,571.9 330.2,571.4 331.5,570.9 333.0,570.6 334.4,570.4 335.8,570.2 337.3,570.1 338.8,569.9 340.3,569.8 341.8,569.6 343.3,569.5 344.8,569.4 346.3,569.3 347.9,569.3 349.4,569.2 350.9,569.2 352.4,569.2 353.9,569.3 355.4,569.4 356.9,569.5 358.4,569.6 359.9,569.8 361.4,570.0 362.8,570.2 364.3,570.5 365.8,570.8 367.2,571.2 368.6,571.8 370.0,572.4 371.4,573.0 372.8,573.6 374.2,574.2 375.6,574.6 377.1,574.9 378.5,575.1 380.0,575.2 381.5,575.3 383.1,575.4 384.6,575.5 386.2,575.6 387.7,575.6 389.3,575.7 390.8,575.7 392.2,575.8 393.7,575.8 395.0,575.8 396.4,575.6 397.7,575.2 399.1,574.5 400.4,573.6 401.6,572.5 402.8,571.4 404.0,570.3 405.1,569.2 406.1,568.2 407.1,567.1 408.1,566.0 409.0,564.8 409.9,563.6 410.7,562.4 411.6,561.1 412.4,559.8 413.1,558.4 413.9,557.1 414.6,555.7 415.3,554.4 416.0,553.1 416.6,551.7 417.3,550.4 417.9,549.0 418.5,547.7 419.1,546.3 419.7,544.9 420.2,543.5 420.8,542.1 421.3,540.7 421.8,539.3 422.3,537.8 422.8,536.4 423.3,535.0 423.8,533.6 424.3,532.1 424.8,530.7 425.2,529.3 425.7,527.9 426.1,526.4 426.5,525.0 426.8,523.5 427.2,522.0 427.5,520.6 427.9,519.1 428.2,517.6 428.6,516.2 428.9,514.7 429.3,513.3 429.7,511.8 430.1,510.4 430.5,508.9 431.0,507.5 431.5,506.1 432.0,504.6 432.5,503.1 433.1,501.6 433.7,500.2 434.4,498.8 435.1,497.5 435.9,496.4 436.9,495.5 438.1,494.5 439.6,493.8 440.9,493.6 442.2,494.2 443.5,495.3 444.6,496.5 445.4,497.7 446.1,498.9 446.6,500.2 447.2,501.6 447.6,503.0 448.1,504.5 448.5,506.0 448.9,507.6 449.3,509.1 449.7,510.6 450.1,512.0 450.5,513.5 450.9,514.9 451.2,516.4 451.6,517.8 451.9,519.3 452.3,520.8 452.6,522.2 452.9,523.7 453.2,525.2 453.6,526.6 453.9,528.1 454.2,529.6 454.6,531.0 455.0,532.5 455.3,533.9 455.7,535.4 456.1,536.8 456.6,538.2 457.0,539.7 457.5,541.1 457.9,542.5 458.4,543.9 458.9,545.4 459.5,546.8 460.0,548.2 460.5,549.6 461.1,551.0 461.7,552.4 462.3,553.7 462.9,555.1 463.6,556.4 464.3,557.7 465.0,559.1 465.7,560.4 466.5,561.7 467.3,563.0 468.2,564.2 469.0,565.4 469.9,566.6 470.8,567.8 471.8,568.9 472.8,570.1 473.9,571.2 475.0,572.3 476.1,573.3 477.2,574.2 478.4,575.1 479.6,575.9 480.9,576.7 482.2,577.4 483.6,578.1 484.9,578.8 486.3,579.4 487.7,580.0 489.1,580.5 490.5,581.0 491.9,581.5 493.3,582.0 494.8,582.4 496.2,582.8 497.7,583.2 499.2,583.5 500.2,583.7" stroke="#10dc3c"/>
<polyline points="34.0,465.5 35.2,464.6 36.5,463.8 37.7,462.9 38.9,462.0 40.1,461.2 41.3,460.3 42.5,459.4 43.7,458.5 44.9,457.6 46.1,456.7 47.3,455.7 48.5,454.8 49.6,453.8 50.8,452.8 51.9,451.9 53.1,450.9 54.2,449.9 55.4,449.0 56.5,448.0 57.7,447.1 58.9,446.2 60.1,445.4 61.4,444.5 62.6,443.5 63.9,442.5 65.2,441.5 66.5,440.7 67.8,440.1 69.1,439.8 70.6,440.0 72.1,440.5 73.1,441.4 73.9,443.0 74.6,444.5 75.5,445.2 76.9,444.7 78.3,443.9 79.1,443.0 79.9,441.9 80.5,440.7 81.1,439.4 81.6,437.9 82.1,436.4 82.6,434.8 83.0,433.3 83.4,431.7 83.8,430.1 84.2,428.5 84.6,427.1 85.0,425.6 85.4,424.2 85.7,422.7 86.1,421.3 86.4,419.8 86.7,418.4 87.0,416.9 87.4,415.4 87.7,413.9 88.0,412.5 88.3,411.0 88.6,409.5 88.9,408.1 89.2,406.6 89.5,405.1 89.8,403.6 90.1,402.2 90.4,400.7 90.8,399.2 91.1,397.8 91.5,396.3 91.8,394.9 92.2,393.4 92.5,391.9 92.9,390.5 93.2,389.0 93.6,387.6 93.9,386.1 94.3,384.7 94.7,383.2 95.0,381.7 95.4,380.3 95.8,378.9 96.2,377.4 96.6,376.0 97.0,374.5 97.4,373.1 97.8,371.6 98.2,370.1 98.7,368.6 99.1,367.2 99.6,365.7 100.1,364.4 100.7,363.0 101.3,361.7 102.2,360.3 103.2,358.8 104.3,357.5 105.3,356.8 106.2,356.8 107.2,357.6 108.1,358.9 109.0,360.5 109.7,362.2 110.3,363.7 110.7,365.0 111.1,366.4 111.5,367.8 111.8,369.3 112.1,370.7 112.4,372.2 112.7,373.7 112.9,375.2 113.2,376.7 113.4,378.2 113.6,379.7 113.8,381.2 114.1,382.8 114.3,384.3 114.5,385.8 114.7,387.3 114.9,388.7 115.2,390.2 115.4,391.7 115.6,393.2 115.9,394.7 116.1,396.2 116.3,397.6 116.5,399.1 116.7,400.6 116.9,402.1 117.1,403.6 117.3,405.1 117.5,406.6 117.7,408.0 117.9,409.5 118.1,411.0 118.3,412.5 118.5,414.0 118.7,415.5 118.8,417.0 119.0,418.5 119.2,420.0 119.4,421.4 119.5,422.9 119.7,424.4 119.9,425.9 120.0,427.4 120.2,428.9 120.3,430.4 120.5,431.9 120.7,433.4 120.8,434.9 121.0,436.4 121.1,437.9 121.3,439.4 121.4,440.8 121.5,442.3 121.7,443.8 121.8,445.3 121.9,446.8 122.0,448.3 122.1,449.8 122.2,451.3 122.3,452.8 122.4,454.3 122.5,455.8 122.6,457.3 122.7,458.8 122.8,460.3 122.9,461.8 122.9,463.3 123.0,464.8 123.1,466.3 123.2,467.8 123.3,469.3 123.3,470.8 123.4,472.3 123.5,473.8 123.6,475.3 123.7,476.8 123.8,478.3 123.9,479.8 124.0,481.3 124.1,482.8 124.2,484.2 124.4,485.7 124.5,487.2 124.6,488.7 124.8,490.2 125.0,491.7 125.1,493.2 125.3,494.7 125.5,496.2 125.6,497.7 125.8,499.2 126.0,500.6 126.2,502.1 126.4,503.6 126.6,505.1 126.8,506.6 127.0,508.1 127.2,509.6 127.5,511.1 127.7,512.5 127.9,514.0 128.1,515.5 128.3,517.0 128.6,518.5 128.8,520.0 129.0,521.4 129.2,522.9 129.4,524.4 129.7,525.9 129.9,527.4 130.1,528.9 130.4,530.4 130.6,531.8 130.9,533.3 131.2,534.8 131.4,536.3 131.7,537.7 132.0,539.2 132.4,540.7 132.7,542.1 133.0,543.6 133.4,545.0 133.8,546.5 134.2,548.0 134.7,549.5 135.1,551.0 135.7,552.4 136.2,553.7 136.8,555.1 137.5,556.3 138.2,557.5 139.1,558.7 140.0,559.9 141.1,561.1 142.2,562.2 143.3,563.2 144.5,564.3 145.7,565.2 146.9,566.1 148.2,566.9 149.4,567.6 150.6,568.3 151.9,569.0 153.2,569.7 154.6,570.3 156.0,570.9 157.4,571.5 158.8,572.0 160.3,572.5 161.7,573.0 163.2,573.5 164.6,574.0 166.1,574.5 167.5,575.0 169.0,575.4 170.4,575.9 171.8,576.3 173.3,576.8 174.7,577.2 176.1,577.6 177.6,578.1 179.0,578.5 180.5,578.9 181.9,579.3 183.4,579.7 184.8,580.1 186.3,580.4 187.8,580.8 189.2,581.1 190.7,581.4 192.2,581.7 193.6,582.0 195.1,582.2 196.6,582.4 198.1,582.6 199.5,582.8 201.0,583.0 202.5,583.2 204.0,583.4 205.5,583.6 207.0,583.8 208.5,583.9 210.0,584.1 211.5,584.2 213.0,584.3 214.5,584.4 216.0,584.5 217.5,584.5 219.0,584.5 220.5,584.5 222.0,584.5 223.5,584.5 225.0,584.4 226.5,584.4 228.0,584.4 229.5,584.3 231.0,584.3 232.5,584.2 234.0,584.2 235.5,584.1 237.0,584.1 238.5,584.0 240.0,583.9 241.5,583.9 243.0,583.8 244.5,583.7 246.0,583.6 247.4,583.4 248.9,583.1 250.3,582.8 251.8,582.4 253.2,582.0 254.7,581.6 256.1,581.1 257.6,580.6 259.0,580.1 260.4,579.7 261.9,579.2 263.3,578.8 264.8,578.4 266.3,578.1 267.7,577.7 269.2,577.4 270.7,577.1 272.1,576.8 273.6,576.5 275.1,576.2 276.6,575.9 278.0,575.7 279.5,575.4 281.0,575.1 282.5,574.9 284.0,574.6 285.4,574.4 286.9,574.2 288.4,574.0 289.9,573.9 291.4,573.7 292.9,573.6 294.4,573.5 295.9,573.4 297.4,573.3 298.9,573.2 300.4,573.1 301.9,573.0 303.4,572.9 304.9,572.9 306.4,572.8 307.9,572.8 309.4,572.7 310.9,572.7 312.4,572.7 313.8,572.8 315.3,572.9 316.8,573.1 318.3,573.3 319.8,573.6 321.3,573.9 322.7,574.3 324.2,574.6 325.7,574.9 327.2,575.2 328.6,575.5 330.1,575.8 331.6,576.0 333.1,576.1 334.6,576.2 336.1,576.3 337.6,576.4 339.1,576.5 340.6,576.6 342.2,576.6 343.7,576.7 345.2,576.8 346.7,576.8 348.3,576.9 349.8,576.9 351.2,577.0 352.7,577.0 354.2,577.0 355.6,577.0 357.0,576.9 358.4,576.5 359.7,576.0 361.1,575.3 362.4,574.5 363.7,573.7 365.0,572.8 366.4,571.9 367.7,571.1 369.0,570.4 370.4,569.7 371.7,569.0 373.0,568.2 374.3,567.5 375.7,566.7 377.0,566.0 378.4,565.4 379.7,564.8 381.1,564.3 382.5,563.9 383.9,563.4 385.4,563.0 386.9,562.7 388.4,562.3 389.9,562.0 391.3,561.9 392.8,561.8 394.3,561.9 395.7,562.1 397.2,562.4 398.6,562.9 400.0,563.4 401.5,563.9 402.9,564.5 404.3,565.0 405.8,565.5 407.2,565.9 408.7,566.3 410.2,566.6 411.7,567.0 413.2,567.3 414.7,567.6 416.2,568.0 417.7,568.3 419.2,568.5 420.7,568.8 422.2,569.0 423.6,569.1 425.0,569.2 426.4,569.2 427.8,568.8 429.2,568.2 430.6,567.4 431.9,566.4 433.1,565.3 434.2,564.3 435.1,563.3 436.0,562.3 436.8,561.1 437.6,559.9 438.3,558.5 439.0,557.2 439.7,555.8 440.3,554.3 440.9,552.9 441.5,551.4 442.1,549.9 442.6,548.5 443.1,547.0 443.6,545.6 444.0,544.2 444.5,542.8 444.9,541.4 445.3,540.0 445.8,538.5 446.2,537.1 446.5,535.7 446.9,534.2 447.3,532.7 447.6,531.3 448.0,529.8 448.3,528.3 448.7,526.9 449.0,525.4 449.3,523.9 449.7,522.4 450.0,521.0 450.3,519.5 450.6,518.0 450.9,516.5 451.2,515.1 451.5,513.6 451.8,512.1 452.2,510.7 452.5,509.2 452.8,507.7 453.1,506.3 453.4,504.8 453.7,503.3 454.0,501.8 454.2,500.4 454.5,498.9 454.8,497.4 455.1,495.9 455.4,494.5 455.6,493.0 455.9,491.5 456.2,490.0 456.4,488.6 456.7,487.1 457.0,485.6 457.2,484.1 457.5,482.7 457.8,481.2 458.0,479.7 458.3,478.2 458.5,476.7 458.8,475.3 459.1,473.8 459.3,472.3 459.5,470.8 459.8,469.3 460.0,467.9 460.3,466.4 460.5,464.9 460.7,463.4 461.0,461.9 461.2,460.4 461.4,459.0 461.6,457.5 461.9,456.0 462.1,454.5 462.3,453.0 462.6,451.6 462.8,450.1 463.1,448.6 463.3,447.1 463.6,445.6 463.8,444.2 464.1,442.7 464.4,441.2 464.7,439.7 464.9,438.3 465.2,436.8 465.5,435.3 465.8,433.8 466.1,432.3 466.4,430.8 466.7,429.3 467.1,427.8 467.4,426.3 467.8,424.9 468.2,423.4 468.6,422.0 469.1,420.7 469.6,419.3 470.3,417.9 471.1,416.3 472.1,414.8 473.1,413.5 474.1,412.6 475.0,412.4 476.0,412.9 477.1,413.9 478.2,415.3 479.2,416.8 480.0,418.3 480.6,419.7 481.1,421.0 481.6,422.3 482.0,423.6 482.4,425.0 482.8,426.5 483.1,427.9 483.5,429.4 483.8,430.8 484.1,432.3 484.4,433.8 484.6,435.3 484.9,436.9 485.2,438.4 485.4,439.9 485.7,441.5 485.9,443.0 486.1,444.5 486.4,446.0 486.7,447.5 486.9,449.0 487.2,450.5 487.5,452.0 487.7,453.4 488.0,454.9 488.3,456.4 488.5,457.9 488.8,459.4 489.0,460.8 489.3,462.3 489.5,463.8 489.8,465.3 490.0,466.7 490.3,468.2 490.5,469.7 490.7,471.2 491.0,472.7 491.2,474.2 491.5,475.6 491.7,477.1 491.9,478.6 492.2,480.1 492.4,481.6 492.6,483.0 492.9,484.5 493.1,486.0 493.4,487.5 493.6,489.0 493.9,490.4 494.1,491.9 494.3,493.4 494.6,494.9 494.8,496.4 495.0,497.9 495.3,499.3 495.5,500.8 495.7,502.3 495.9,503.8 496.2,505.3 496.4,506.8 496.6,508.2 496.8,509.7 497.1,511.2 497.3,512.7 497.6,514.2 497.8,515.7 498.0,517.1 498.3,518.6 498.5,520.1 498.8,521.6 499.1,523.0 499.3,524.5 499.6,526.0 499.9,527.5 500.2,528.9 500.5,530.4 500.8,531.9 501.1,533.3 501.4,534.8 501.7,536.3 502.1,537.7 502.4,539.2 502.8,540.7 503.1,542.1 503.5,543.6 503.8,545.1 504.2,546.5 504.6,548.0 505.0,549.4 505.4,550.8 505.9,552.3 506.3,553.7 506.8,555.1 507.2,556.5 507.7,558.0 508.2,559.5 508.7,561.0 509.3,562.4 509.8,563.9 510.4,565.3 511.1,566.7 511.8,568.0 512.5,569.2 513.3,570.3 514.1,571.4 515.2,572.4 516.3,573.4 517.6,574.3 518.9,575.2 520.2,576.0 521.6,576.7 522.9,577.4 524.2,578.0 525.6,578.6 527.0,579.2 528.4,579.7 529.8,580.2 531.3,580.7 532.7,581.3 534.1,581.8 535.5,582.3 536.9,582.8 538.3,583.2 539.7,583.7" stroke="#1c7c40"/>
</g>
<path fill="#000" fill-rule="evenodd" d="M32,283.5 H581.4 V588.6 H32 Z M35.7,286.3 V585.8 H578.3 V286.3 Z"/>
<text class="serif" font-size="25.6" x="222.5" y="453" textLength="151.6" lengthAdjust="spacing">Chlorophyll a</text>
<text class="serif" font-size="25.6" x="222.5" y="517" textLength="153" lengthAdjust="spacing">Chlorophyll b</text>
<!-- purple arrows -->
<g fill="#7030a0" stroke="none">
<rect x="394" y="442.9" width="66.6" height="3.8"/>
<path d="M385.5,444.8 L398,438.6 L398,451 Z"/>
<rect x="394" y="508.6" width="33.6" height="3.8"/>
<path d="M385.5,510.5 L398,504.3 L398,516.7 Z"/>
</g>
<!-- blue arrows -->
<g stroke="#4472c4" stroke-width="3.4" fill="none" stroke-linejoin="miter">
<polyline points="154.5,236.65 359.6,236.65 464.9,411"/>
</g>
<path d="M151,236.65 L155.2,233 L155.2,240.3 Z" fill="#4472c4"/>
<path d="M466.5,413.8 L461.6,412.8 L468,408.4 Z" fill="#4472c4"/>

<!-- ticks below box -->
<g stroke="#000" stroke-width="3" stroke-linecap="round">
<line x1="54.3" y1="588" x2="54.3" y2="592.8"/><line x1="528.7" y1="588" x2="528.7" y2="592.8"/>
</g>
<g stroke="#666" stroke-width="1">
<line x1="211.8" y1="588" x2="211.8" y2="593.5"/><line x1="369.7" y1="588" x2="369.7" y2="593.5"/>
</g>
<!-- spectrum bar -->
<rect x="35.5" y="596.4" width="329.8" height="30" fill="url(#specB)"/>
<rect x="365" y="596.4" width="214.6" height="30" fill="url(#specB2)"/>
<g class="sans" font-weight="bold" font-size="22.2" fill="#fff">
<text x="39.2" y="619" textLength="40.3" lengthAdjust="spacingAndGlyphs">400</text>
<text x="195.4" y="619" textLength="39.8" lengthAdjust="spacingAndGlyphs">500</text>
<text x="354.4" y="619" textLength="39.8" lengthAdjust="spacingAndGlyphs">600</text>
<text x="513" y="619" textLength="39.8" lengthAdjust="spacingAndGlyphs">700</text>
</g>
<text class="serif" font-size="25.6" x="173.2" y="649.5" textLength="258.8" lengthAdjust="spacing">Wavelength range (nm)</text>
<g fill="#7030a0">
<rect x="40" y="654.7" width="534" height="2.6"/>
<path d="M32.2,656 L43,650.6 L43,661.4 Z"/>
<path d="M581.2,656 L570.4,650.6 L570.4,661.4 Z"/>
</g>
</svg>
</body></html>
